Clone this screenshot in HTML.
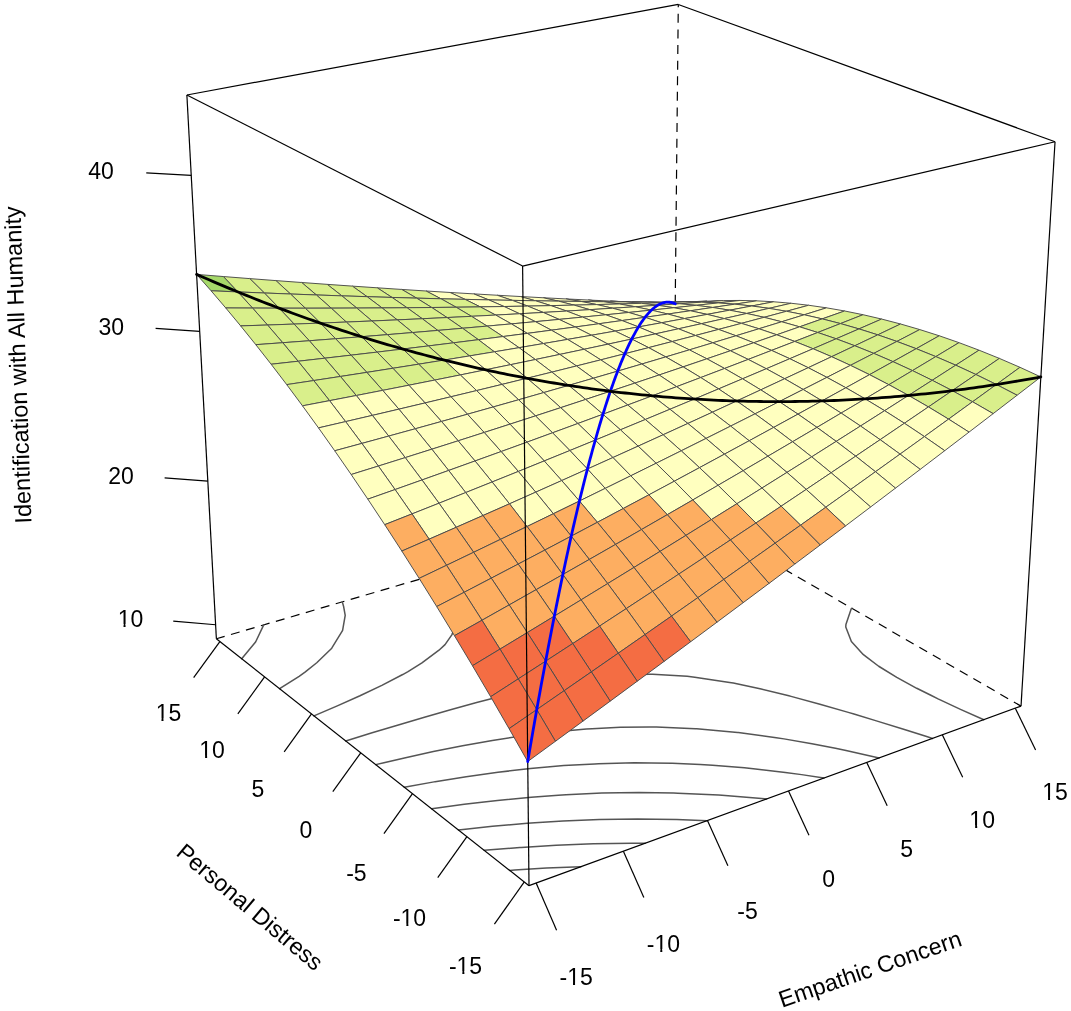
<!DOCTYPE html>
<html><head><meta charset="utf-8"><style>
html,body{margin:0;padding:0;background:#fff;}
svg{display:block;will-change:transform;}
text{font-family:"Liberation Sans",sans-serif;font-size:23px;fill:#000;}
</style></head><body>
<svg width="1071" height="1011" viewBox="0 0 1071 1011">
<rect width="1071" height="1011" fill="#fff"/>
<defs><clipPath id="c0"><path d="M536.19,945.49h80v80h-80ZM567.98,982.77H573.01V987.49H567.98ZM575.05,982.77H579.90V987.49H575.05Z" clip-rule="evenodd"/></clipPath><clipPath id="c1"><path d="M425.52,934.07h80v80h-80ZM457.31,971.35H462.34V976.07H457.31ZM464.38,971.35H469.23V976.07H464.38Z" clip-rule="evenodd"/></clipPath><clipPath id="c2"><path d="M623.45,911.60h80v80h-80ZM655.24,948.88H660.27V953.60H655.24ZM662.30,948.88H667.15V953.60H662.30Z" clip-rule="evenodd"/></clipPath><clipPath id="c3"><path d="M369.52,886.39h80v80h-80ZM401.31,923.68H406.35V928.39H401.31ZM408.38,923.68H413.23V928.39H408.38Z" clip-rule="evenodd"/></clipPath><clipPath id="c10"><path d="M942.17,787.81h80v80h-80ZM970.13,825.09H975.16V829.81H970.13ZM977.20,825.09H982.05V829.81H977.20Z" clip-rule="evenodd"/></clipPath><clipPath id="c11"><path d="M172.10,718.31h80v80h-80ZM200.06,755.59H205.10V760.31H200.06ZM207.13,755.59H211.98V760.31H207.13Z" clip-rule="evenodd"/></clipPath><clipPath id="c12"><path d="M1015.05,759.51h80v80h-80ZM1043.01,796.79H1048.05V801.51H1043.01ZM1050.08,796.79H1054.93V801.51H1050.08Z" clip-rule="evenodd"/></clipPath><clipPath id="c13"><path d="M128.47,681.16h80v80h-80ZM156.43,718.44H161.46V723.16H156.43ZM163.49,718.44H168.34V723.16H163.49Z" clip-rule="evenodd"/></clipPath><clipPath id="c14"><path d="M90.52,586.83h80v80h-80ZM118.49,624.11H123.52V628.83H118.49ZM125.55,624.11H130.40V628.83H125.55Z" clip-rule="evenodd"/></clipPath></defs>
<line x1="216.37" y1="638.79" x2="673.16" y2="504.83" stroke="#000" stroke-width="1.2" stroke-dasharray="9,6.6" stroke-dashoffset="0.4"/>
<line x1="1021.02" y1="706.13" x2="673.16" y2="504.83" stroke="#000" stroke-width="1.2" stroke-dasharray="9,6.6" stroke-dashoffset="0.7"/>
<line x1="673.16" y1="504.83" x2="678.29" y2="4.44" stroke="#000" stroke-width="1.2" stroke-dasharray="9,6.6" stroke-dashoffset="1.6"/>
<polyline points="580.88,866.74 546.50,868.10 514.67,870.06 509.66,870.39" fill="none" stroke="#555" stroke-width="1.5" stroke-linejoin="round" stroke-linecap="round"/>
<polyline points="645.22,843.26 631.87,843.19 593.52,843.80 586.89,844.02 556.19,845.20 521.13,847.40 519.92,847.48 484.29,850.35" fill="none" stroke="#555" stroke-width="1.5" stroke-linejoin="round" stroke-linecap="round"/>
<polyline points="707.07,820.69 676.84,819.48 655.92,819.13 637.52,818.95 599.71,819.53 599.34,819.54 562.96,820.92 534.87,822.71 527.35,823.23 492.50,826.21 458.55,829.93 458.45,829.94" fill="none" stroke="#555" stroke-width="1.5" stroke-linejoin="round" stroke-linecap="round"/>
<polyline points="766.58,798.98 761.65,798.46 722.01,795.31 718.61,795.07 677.86,793.16 673.67,793.06 638.98,792.53 619.96,792.76 601.80,793.11 566.01,794.73 558.28,795.23 531.23,797.16 497.43,800.43 483.99,801.99 464.30,804.35 431.74,808.86" fill="none" stroke="#555" stroke-width="1.5" stroke-linejoin="round" stroke-linecap="round"/>
<polyline points="823.88,778.07 801.59,774.62 785.31,772.48 755.47,768.89 744.44,767.85 712.56,765.17 700.28,764.49 672.37,763.20 651.26,762.88 634.47,762.78 598.48,763.70 594.78,763.88 563.81,765.61 530.49,768.58 525.88,769.08 497.95,772.24 466.20,776.65 435.08,781.69 434.04,781.87 404.25,787.15" fill="none" stroke="#555" stroke-width="1.5" stroke-linejoin="round" stroke-linecap="round"/>
<polyline points="650.07,511.61 653.49,511.65 684.45,511.36" fill="none" stroke="#555" stroke-width="1.5" stroke-linejoin="round" stroke-linecap="round"/>
<polyline points="879.12,757.91 846.06,750.59 835.44,748.30 811.93,743.81 783.98,738.88 776.26,737.74 738.28,732.61 737.58,732.52 696.74,728.82 695.30,728.71 656.43,727.10 649.42,727.07 620.27,727.29 592.04,728.75 586.37,729.10 553.87,731.95 522.73,735.88 514.44,737.11 492.33,740.50 462.59,745.77 433.35,751.61 404.44,757.92 383.93,762.68 375.71,764.61" fill="none" stroke="#555" stroke-width="1.5" stroke-linejoin="round" stroke-linecap="round"/>
<polyline points="573.97,533.92 599.29,536.20 610.13,536.84 634.26,537.98 651.69,538.20 666.74,538.23 697.07,537.21 702.09,536.91 725.82,535.31" fill="none" stroke="#555" stroke-width="1.5" stroke-linejoin="round" stroke-linecap="round"/>
<polyline points="932.41,738.47 927.42,736.80 904.40,729.55 876.40,720.85 853.94,713.97 848.30,712.38 819.92,704.20 791.05,696.38 788.89,695.78 761.19,689.07 733.31,683.10 729.66,682.49 694.76,677.16 687.23,676.20 652.59,674.35 648.99,674.25 615.51,675.42 589.25,678.48 585.48,678.97 556.94,683.66 529.62,689.35 502.96,695.71 476.66,702.54 450.52,709.73 424.44,717.21 398.31,724.92 372.10,732.84 345.74,740.95" fill="none" stroke="#555" stroke-width="1.5" stroke-linejoin="round" stroke-linecap="round"/>
<polyline points="497.34,556.39 506.09,558.84 522.28,562.86 548.62,569.03 557.93,571.15 577.14,574.66 602.68,578.64 609.29,579.30 640.63,581.70 648.79,581.77 673.37,581.50 702.17,578.92 708.03,578.14 728.86,575.16 753.87,570.52 777.67,565.31" fill="none" stroke="#555" stroke-width="1.5" stroke-linejoin="round" stroke-linecap="round"/>
<polyline points="420.16,579.03 434.02,588.99 445.66,599.82 453.66,611.97 453.85,612.62 455.40,626.28 451.82,634.87 445.03,644.61 438.98,650.18 421.94,662.94 408.02,671.63 402.71,674.54 381.84,685.32 359.98,695.72 337.31,705.87 313.95,715.85" fill="none" stroke="#555" stroke-width="1.5" stroke-linejoin="round" stroke-linecap="round"/>
<polyline points="983.84,719.70 960.49,709.33 938.06,698.88 930.85,695.26 916.73,688.29 896.79,677.46 878.69,666.24 866.34,656.90 863.15,654.40 851.38,641.57 845.77,626.96 845.92,624.51 851.15,609.07 851.80,608.21" fill="none" stroke="#555" stroke-width="1.5" stroke-linejoin="round" stroke-linecap="round"/>
<polyline points="342.30,601.86 343.55,606.22 345.21,615.30 342.60,630.31 342.48,630.69 331.89,647.92 331.00,649.04 316.75,662.78 305.02,672.18 299.14,676.26 279.62,688.73" fill="none" stroke="#555" stroke-width="1.5" stroke-linejoin="round" stroke-linecap="round"/>
<polyline points="263.72,624.90 255.72,641.80 255.36,642.31 241.71,658.79" fill="none" stroke="#555" stroke-width="1.5" stroke-linejoin="round" stroke-linecap="round"/>
<polygon points="669.54,302.19 691.02,302.25 675.22,303.82 653.83,302.95" fill="#FDAE61" stroke="#4a4a4a" stroke-width="0.95" stroke-linejoin="round"/>
<polygon points="647.82,302.08 669.54,302.19 653.83,302.95 632.20,302.03" fill="#FFFFBF" stroke="#4a4a4a" stroke-width="0.95" stroke-linejoin="round"/>
<polygon points="685.49,301.92 707.07,301.16 691.02,302.25 669.54,302.19" fill="#FFFFBF" stroke="#4a4a4a" stroke-width="0.95" stroke-linejoin="round"/>
<polygon points="625.86,301.93 647.82,302.08 632.20,302.03 610.32,301.05" fill="#FFFFBF" stroke="#4a4a4a" stroke-width="0.95" stroke-linejoin="round"/>
<polygon points="663.68,302.64 685.49,301.92 669.54,302.19 647.82,302.08" fill="#FFFFBF" stroke="#4a4a4a" stroke-width="0.95" stroke-linejoin="round"/>
<polygon points="701.70,302.15 723.37,300.55 707.07,301.16 685.49,301.92" fill="#FFFFBF" stroke="#4a4a4a" stroke-width="0.95" stroke-linejoin="round"/>
<polygon points="603.66,301.72 625.86,301.93 610.32,301.05 588.20,300.01" fill="#FFFFBF" stroke="#4a4a4a" stroke-width="0.95" stroke-linejoin="round"/>
<polygon points="641.64,303.33 663.68,302.64 647.82,302.08 625.86,301.93" fill="#FFFFBF" stroke="#4a4a4a" stroke-width="0.95" stroke-linejoin="round"/>
<polygon points="679.79,303.72 701.70,302.15 685.49,301.92 663.68,302.64" fill="#FFFFBF" stroke="#4a4a4a" stroke-width="0.95" stroke-linejoin="round"/>
<polygon points="581.20,301.46 603.66,301.72 588.20,300.01 565.83,298.91" fill="#FFFFBF" stroke="#4a4a4a" stroke-width="0.95" stroke-linejoin="round"/>
<polygon points="718.15,302.90 739.92,300.45 723.37,300.55 701.70,302.15" fill="#FFFFBF" stroke="#4a4a4a" stroke-width="0.95" stroke-linejoin="round"/>
<polygon points="619.34,303.97 641.64,303.33 625.86,301.93 603.66,301.72" fill="#FFFFBF" stroke="#4a4a4a" stroke-width="0.95" stroke-linejoin="round"/>
<polygon points="657.65,305.26 679.79,303.72 663.68,302.64 641.64,303.33" fill="#FFFFBF" stroke="#4a4a4a" stroke-width="0.95" stroke-linejoin="round"/>
<polygon points="558.50,301.15 581.20,301.46 565.83,298.91 543.21,297.75" fill="#FFFFBF" stroke="#4a4a4a" stroke-width="0.95" stroke-linejoin="round"/>
<polygon points="696.15,305.33 718.15,302.90 701.70,302.15 679.79,303.72" fill="#FFFFBF" stroke="#4a4a4a" stroke-width="0.95" stroke-linejoin="round"/>
<polygon points="596.81,304.57 619.34,303.97 603.66,301.72 581.20,301.46" fill="#FFFFBF" stroke="#4a4a4a" stroke-width="0.95" stroke-linejoin="round"/>
<polygon points="734.85,304.18 756.72,300.85 739.92,300.45 718.15,302.90" fill="#FFFFBF" stroke="#4a4a4a" stroke-width="0.95" stroke-linejoin="round"/>
<polygon points="635.27,306.76 657.65,305.26 641.64,303.33 619.34,303.97" fill="#FFFFBF" stroke="#4a4a4a" stroke-width="0.95" stroke-linejoin="round"/>
<polygon points="535.53,300.79 558.50,301.15 543.21,297.75 520.32,296.53" fill="#FFFFBF" stroke="#4a4a4a" stroke-width="0.95" stroke-linejoin="round"/>
<polygon points="673.91,307.74 696.15,305.33 679.79,303.72 657.65,305.26" fill="#FFFFBF" stroke="#4a4a4a" stroke-width="0.95" stroke-linejoin="round"/>
<polygon points="574.02,305.12 596.81,304.57 581.20,301.46 558.50,301.15" fill="#FFFFBF" stroke="#4a4a4a" stroke-width="0.95" stroke-linejoin="round"/>
<polygon points="712.75,307.48 734.85,304.18 718.15,302.90 696.15,305.33" fill="#FFFFBF" stroke="#4a4a4a" stroke-width="0.95" stroke-linejoin="round"/>
<polygon points="612.65,308.23 635.27,306.76 619.34,303.97 596.81,304.57" fill="#FFFFBF" stroke="#4a4a4a" stroke-width="0.95" stroke-linejoin="round"/>
<polygon points="512.30,300.37 535.53,300.79 520.32,296.53 497.17,295.24" fill="#FFFFBF" stroke="#4a4a4a" stroke-width="0.95" stroke-linejoin="round"/>
<polygon points="751.80,305.99 773.77,301.78 756.72,300.85 734.85,304.18" fill="#FFFFBF" stroke="#4a4a4a" stroke-width="0.95" stroke-linejoin="round"/>
<polygon points="651.44,310.12 673.91,307.74 657.65,305.26 635.27,306.76" fill="#FFFFBF" stroke="#4a4a4a" stroke-width="0.95" stroke-linejoin="round"/>
<polygon points="550.98,305.63 574.02,305.12 558.50,301.15 535.53,300.79" fill="#FFFFBF" stroke="#4a4a4a" stroke-width="0.95" stroke-linejoin="round"/>
<polygon points="690.42,310.78 712.75,307.48 696.15,305.33 673.91,307.74" fill="#FFFFBF" stroke="#4a4a4a" stroke-width="0.95" stroke-linejoin="round"/>
<polygon points="589.78,309.67 612.65,308.23 596.81,304.57 574.02,305.12" fill="#FFFFBF" stroke="#4a4a4a" stroke-width="0.95" stroke-linejoin="round"/>
<polygon points="729.60,310.19 751.80,305.99 734.85,304.18 712.75,307.48" fill="#FFFFBF" stroke="#4a4a4a" stroke-width="0.95" stroke-linejoin="round"/>
<polygon points="628.73,312.48 651.44,310.12 635.27,306.76 612.65,308.23" fill="#FFFFBF" stroke="#4a4a4a" stroke-width="0.95" stroke-linejoin="round"/>
<polygon points="488.81,299.90 512.30,300.37 497.17,295.24 473.74,293.89" fill="#FFFFBF" stroke="#4a4a4a" stroke-width="0.95" stroke-linejoin="round"/>
<polygon points="527.67,306.10 550.98,305.63 535.53,300.79 512.30,300.37" fill="#FFFFBF" stroke="#4a4a4a" stroke-width="0.95" stroke-linejoin="round"/>
<polygon points="769.01,308.36 791.09,303.25 773.77,301.78 751.80,305.99" fill="#FFFFBF" stroke="#4a4a4a" stroke-width="0.95" stroke-linejoin="round"/>
<polygon points="667.86,314.05 690.42,310.78 673.91,307.74 651.44,310.12" fill="#FFFFBF" stroke="#4a4a4a" stroke-width="0.95" stroke-linejoin="round"/>
<polygon points="566.65,311.07 589.78,309.67 574.02,305.12 550.98,305.63" fill="#FFFFBF" stroke="#4a4a4a" stroke-width="0.95" stroke-linejoin="round"/>
<polygon points="707.18,314.39 729.60,310.19 712.75,307.48 690.42,310.78" fill="#FFFFBF" stroke="#4a4a4a" stroke-width="0.95" stroke-linejoin="round"/>
<polygon points="605.78,314.81 628.73,312.48 612.65,308.23 589.78,309.67" fill="#FFFFBF" stroke="#4a4a4a" stroke-width="0.95" stroke-linejoin="round"/>
<polygon points="465.04,299.37 488.81,299.90 473.74,293.89 450.04,292.47" fill="#FFFFBF" stroke="#4a4a4a" stroke-width="0.95" stroke-linejoin="round"/>
<polygon points="746.71,313.47 769.01,308.36 751.80,305.99 729.60,310.19" fill="#FFFFBF" stroke="#4a4a4a" stroke-width="0.95" stroke-linejoin="round"/>
<polygon points="504.10,306.52 527.67,306.10 512.30,300.37 488.81,299.90" fill="#FFFFBF" stroke="#4a4a4a" stroke-width="0.95" stroke-linejoin="round"/>
<polygon points="645.06,317.32 667.86,314.05 651.44,310.12 628.73,312.48" fill="#FFFFBF" stroke="#4a4a4a" stroke-width="0.95" stroke-linejoin="round"/>
<polygon points="543.27,312.44 566.65,311.07 550.98,305.63 527.67,306.10" fill="#FFFFBF" stroke="#4a4a4a" stroke-width="0.95" stroke-linejoin="round"/>
<polygon points="684.52,318.57 707.18,314.39 690.42,310.78 667.86,314.05" fill="#FFFFBF" stroke="#4a4a4a" stroke-width="0.95" stroke-linejoin="round"/>
<polygon points="786.48,311.29 808.67,305.26 791.09,303.25 769.01,308.36" fill="#FFFFBF" stroke="#4a4a4a" stroke-width="0.95" stroke-linejoin="round"/>
<polygon points="582.57,317.12 605.78,314.81 589.78,309.67 566.65,311.07" fill="#FFFFBF" stroke="#4a4a4a" stroke-width="0.95" stroke-linejoin="round"/>
<polygon points="440.99,298.79 465.04,299.37 450.04,292.47 426.06,290.99" fill="#FFFFBF" stroke="#4a4a4a" stroke-width="0.95" stroke-linejoin="round"/>
<polygon points="724.19,318.58 746.71,313.47 729.60,310.19 707.18,314.39" fill="#FFFFBF" stroke="#4a4a4a" stroke-width="0.95" stroke-linejoin="round"/>
<polygon points="622.01,320.56 645.06,317.32 628.73,312.48 605.78,314.81" fill="#FFFFBF" stroke="#4a4a4a" stroke-width="0.95" stroke-linejoin="round"/>
<polygon points="480.26,306.90 504.10,306.52 488.81,299.90 465.04,299.37" fill="#FFFFBF" stroke="#4a4a4a" stroke-width="0.95" stroke-linejoin="round"/>
<polygon points="519.62,313.77 543.27,312.44 527.67,306.10 504.10,306.52" fill="#FFFFBF" stroke="#4a4a4a" stroke-width="0.95" stroke-linejoin="round"/>
<polygon points="764.08,317.32 786.48,311.29 769.01,308.36 746.71,313.47" fill="#FFFFBF" stroke="#4a4a4a" stroke-width="0.95" stroke-linejoin="round"/>
<polygon points="661.63,322.75 684.52,318.57 667.86,314.05 645.06,317.32" fill="#FFFFBF" stroke="#4a4a4a" stroke-width="0.95" stroke-linejoin="round"/>
<polygon points="559.10,319.41 582.57,317.12 566.65,311.07 543.27,312.44" fill="#FFFFBF" stroke="#4a4a4a" stroke-width="0.95" stroke-linejoin="round"/>
<polygon points="701.43,323.69 724.19,318.58 707.18,314.39 684.52,318.57" fill="#FFFFBF" stroke="#4a4a4a" stroke-width="0.95" stroke-linejoin="round"/>
<polygon points="416.66,298.15 440.99,298.79 426.06,290.99 401.79,289.44" fill="#D9EF8B" stroke="#4a4a4a" stroke-width="0.95" stroke-linejoin="round"/>
<polygon points="804.21,314.79 826.51,307.83 808.67,305.26 786.48,311.29" fill="#FFFFBF" stroke="#4a4a4a" stroke-width="0.95" stroke-linejoin="round"/>
<polygon points="598.72,323.79 622.01,320.56 605.78,314.81 582.57,317.12" fill="#FFFFBF" stroke="#4a4a4a" stroke-width="0.95" stroke-linejoin="round"/>
<polygon points="456.14,307.23 480.26,306.90 465.04,299.37 440.99,298.79" fill="#D9EF8B" stroke="#4a4a4a" stroke-width="0.95" stroke-linejoin="round"/>
<polygon points="741.45,323.37 764.08,317.32 746.71,313.47 724.19,318.58" fill="#FFFFBF" stroke="#4a4a4a" stroke-width="0.95" stroke-linejoin="round"/>
<polygon points="495.71,315.07 519.62,313.77 504.10,306.52 480.26,306.90" fill="#FFFFBF" stroke="#4a4a4a" stroke-width="0.95" stroke-linejoin="round"/>
<polygon points="638.49,326.93 661.63,322.75 645.06,317.32 622.01,320.56" fill="#FFFFBF" stroke="#4a4a4a" stroke-width="0.95" stroke-linejoin="round"/>
<polygon points="535.38,321.66 559.10,319.41 543.27,312.44 519.62,313.77" fill="#FFFFBF" stroke="#4a4a4a" stroke-width="0.95" stroke-linejoin="round"/>
<polygon points="678.44,328.81 701.43,323.69 684.52,318.57 661.63,322.75" fill="#FFFFBF" stroke="#4a4a4a" stroke-width="0.95" stroke-linejoin="round"/>
<polygon points="781.70,321.77 804.21,314.79 786.48,311.29 764.08,317.32" fill="#FFFFBF" stroke="#4a4a4a" stroke-width="0.95" stroke-linejoin="round"/>
<polygon points="392.04,297.44 416.66,298.15 401.79,289.44 377.23,287.81" fill="#D9EF8B" stroke="#4a4a4a" stroke-width="0.95" stroke-linejoin="round"/>
<polygon points="575.17,327.01 598.72,323.79 582.57,317.12 559.10,319.41" fill="#FFFFBF" stroke="#4a4a4a" stroke-width="0.95" stroke-linejoin="round"/>
<polygon points="431.75,307.51 456.14,307.23 440.99,298.79 416.66,298.15" fill="#D9EF8B" stroke="#4a4a4a" stroke-width="0.95" stroke-linejoin="round"/>
<polygon points="718.59,329.42 741.45,323.37 724.19,318.58 701.43,323.69" fill="#FFFFBF" stroke="#4a4a4a" stroke-width="0.95" stroke-linejoin="round"/>
<polygon points="822.21,318.89 844.62,310.98 826.51,307.83 804.21,314.79" fill="#FFFFBF" stroke="#4a4a4a" stroke-width="0.95" stroke-linejoin="round"/>
<polygon points="615.11,331.10 638.49,326.93 622.01,320.56 598.72,323.79" fill="#FFFFBF" stroke="#4a4a4a" stroke-width="0.95" stroke-linejoin="round"/>
<polygon points="471.53,316.33 495.71,315.07 480.26,306.90 456.14,307.23" fill="#D9EF8B" stroke="#4a4a4a" stroke-width="0.95" stroke-linejoin="round"/>
<polygon points="511.39,323.90 535.38,321.66 519.62,313.77 495.71,315.07" fill="#FFFFBF" stroke="#4a4a4a" stroke-width="0.95" stroke-linejoin="round"/>
<polygon points="758.96,328.77 781.70,321.77 764.08,317.32 741.45,323.37" fill="#FFFFBF" stroke="#4a4a4a" stroke-width="0.95" stroke-linejoin="round"/>
<polygon points="655.21,333.92 678.44,328.81 661.63,322.75 638.49,326.93" fill="#FFFFBF" stroke="#4a4a4a" stroke-width="0.95" stroke-linejoin="round"/>
<polygon points="551.37,330.20 575.17,327.01 559.10,319.41 535.38,321.66" fill="#FFFFBF" stroke="#4a4a4a" stroke-width="0.95" stroke-linejoin="round"/>
<polygon points="367.12,296.68 392.04,297.44 377.23,287.81 352.37,286.12" fill="#D9EF8B" stroke="#4a4a4a" stroke-width="0.95" stroke-linejoin="round"/>
<polygon points="695.50,335.49 718.59,329.42 701.43,323.69 678.44,328.81" fill="#FFFFBF" stroke="#4a4a4a" stroke-width="0.95" stroke-linejoin="round"/>
<polygon points="407.06,307.75 431.75,307.51 416.66,298.15 392.04,297.44" fill="#D9EF8B" stroke="#4a4a4a" stroke-width="0.95" stroke-linejoin="round"/>
<polygon points="799.58,326.83 822.21,318.89 804.21,314.79 781.70,321.77" fill="#FFFFBF" stroke="#4a4a4a" stroke-width="0.95" stroke-linejoin="round"/>
<polygon points="591.48,335.26 615.11,331.10 598.72,323.79 575.17,327.01" fill="#FFFFBF" stroke="#4a4a4a" stroke-width="0.95" stroke-linejoin="round"/>
<polygon points="447.06,317.55 471.53,316.33 456.14,307.23 431.75,307.51" fill="#D9EF8B" stroke="#4a4a4a" stroke-width="0.95" stroke-linejoin="round"/>
<polygon points="736.00,335.78 758.96,328.77 741.45,323.37 718.59,329.42" fill="#FFFFBF" stroke="#4a4a4a" stroke-width="0.95" stroke-linejoin="round"/>
<polygon points="631.74,339.04 655.21,333.92 638.49,326.93 615.11,331.10" fill="#FFFFBF" stroke="#4a4a4a" stroke-width="0.95" stroke-linejoin="round"/>
<polygon points="487.14,326.10 511.39,323.90 495.71,315.07 471.53,316.33" fill="#FFFFBF" stroke="#4a4a4a" stroke-width="0.95" stroke-linejoin="round"/>
<polygon points="840.47,323.59 863.00,314.71 844.62,310.98 822.21,318.89" fill="#D9EF8B" stroke="#4a4a4a" stroke-width="0.95" stroke-linejoin="round"/>
<polygon points="527.31,333.39 551.37,330.20 535.38,321.66 511.39,323.90" fill="#FFFFBF" stroke="#4a4a4a" stroke-width="0.95" stroke-linejoin="round"/>
<polygon points="672.18,341.56 695.50,335.49 678.44,328.81 655.21,333.92" fill="#FFFFBF" stroke="#4a4a4a" stroke-width="0.95" stroke-linejoin="round"/>
<polygon points="776.74,334.79 799.58,326.83 781.70,321.77 758.96,328.77" fill="#FFFFBF" stroke="#4a4a4a" stroke-width="0.95" stroke-linejoin="round"/>
<polygon points="341.90,295.86 367.12,296.68 352.37,286.12 327.21,284.35" fill="#D9EF8B" stroke="#4a4a4a" stroke-width="0.95" stroke-linejoin="round"/>
<polygon points="382.09,307.93 407.06,307.75 392.04,297.44 367.12,296.68" fill="#D9EF8B" stroke="#4a4a4a" stroke-width="0.95" stroke-linejoin="round"/>
<polygon points="567.60,339.41 591.48,335.26 575.17,327.01 551.37,330.20" fill="#FFFFBF" stroke="#4a4a4a" stroke-width="0.95" stroke-linejoin="round"/>
<polygon points="422.32,318.74 447.06,317.55 431.75,307.51 407.06,307.75" fill="#D9EF8B" stroke="#4a4a4a" stroke-width="0.95" stroke-linejoin="round"/>
<polygon points="712.81,342.81 736.00,335.78 718.59,329.42 695.50,335.49" fill="#FFFFBF" stroke="#4a4a4a" stroke-width="0.95" stroke-linejoin="round"/>
<polygon points="817.72,332.50 840.47,323.59 822.21,318.89 799.58,326.83" fill="#D9EF8B" stroke="#4a4a4a" stroke-width="0.95" stroke-linejoin="round"/>
<polygon points="608.03,344.16 631.74,339.04 615.11,331.10 591.48,335.26" fill="#FFFFBF" stroke="#4a4a4a" stroke-width="0.95" stroke-linejoin="round"/>
<polygon points="462.60,328.28 487.14,326.10 471.53,316.33 447.06,317.55" fill="#D9EF8B" stroke="#4a4a4a" stroke-width="0.95" stroke-linejoin="round"/>
<polygon points="502.98,336.55 527.31,333.39 511.39,323.90 487.14,326.10" fill="#FFFFBF" stroke="#4a4a4a" stroke-width="0.95" stroke-linejoin="round"/>
<polygon points="753.67,342.77 776.74,334.79 758.96,328.77 736.00,335.78" fill="#FFFFBF" stroke="#4a4a4a" stroke-width="0.95" stroke-linejoin="round"/>
<polygon points="648.62,347.65 672.18,341.56 655.21,333.92 631.74,339.04" fill="#FFFFBF" stroke="#4a4a4a" stroke-width="0.95" stroke-linejoin="round"/>
<polygon points="858.99,328.91 881.64,319.05 863.00,314.71 840.47,323.59" fill="#D9EF8B" stroke="#4a4a4a" stroke-width="0.95" stroke-linejoin="round"/>
<polygon points="316.38,294.98 341.90,295.86 327.21,284.35 301.73,282.51" fill="#D9EF8B" stroke="#4a4a4a" stroke-width="0.95" stroke-linejoin="round"/>
<polygon points="543.46,343.55 567.60,339.41 551.37,330.20 527.31,333.39" fill="#FFFFBF" stroke="#4a4a4a" stroke-width="0.95" stroke-linejoin="round"/>
<polygon points="356.81,308.07 382.09,307.93 367.12,296.68 341.90,295.86" fill="#D9EF8B" stroke="#4a4a4a" stroke-width="0.95" stroke-linejoin="round"/>
<polygon points="689.39,349.86 712.81,342.81 695.50,335.49 672.18,341.56" fill="#FFFFBF" stroke="#4a4a4a" stroke-width="0.95" stroke-linejoin="round"/>
<polygon points="794.77,341.44 817.72,332.50 799.58,326.83 776.74,334.79" fill="#FFFFBF" stroke="#4a4a4a" stroke-width="0.95" stroke-linejoin="round"/>
<polygon points="397.28,319.89 422.32,318.74 407.06,307.75 382.09,307.93" fill="#D9EF8B" stroke="#4a4a4a" stroke-width="0.95" stroke-linejoin="round"/>
<polygon points="584.06,349.29 608.03,344.16 591.48,335.26 567.60,339.41" fill="#FFFFBF" stroke="#4a4a4a" stroke-width="0.95" stroke-linejoin="round"/>
<polygon points="437.79,330.43 462.60,328.28 447.06,317.55 422.32,318.74" fill="#D9EF8B" stroke="#4a4a4a" stroke-width="0.95" stroke-linejoin="round"/>
<polygon points="730.38,350.78 753.67,342.77 736.00,335.78 712.81,342.81" fill="#FFFFBF" stroke="#4a4a4a" stroke-width="0.95" stroke-linejoin="round"/>
<polygon points="624.81,353.75 648.62,347.65 631.74,339.04 608.03,344.16" fill="#FFFFBF" stroke="#4a4a4a" stroke-width="0.95" stroke-linejoin="round"/>
<polygon points="478.38,339.70 502.98,336.55 487.14,326.10 462.60,328.28" fill="#D9EF8B" stroke="#4a4a4a" stroke-width="0.95" stroke-linejoin="round"/>
<polygon points="836.13,338.81 858.99,328.91 840.47,323.59 817.72,332.50" fill="#D9EF8B" stroke="#4a4a4a" stroke-width="0.95" stroke-linejoin="round"/>
<polygon points="519.05,347.69 543.46,343.55 527.31,333.39 502.98,336.55" fill="#FFFFBF" stroke="#4a4a4a" stroke-width="0.95" stroke-linejoin="round"/>
<polygon points="290.54,294.03 316.38,294.98 301.73,282.51 275.94,280.60" fill="#D9EF8B" stroke="#4a4a4a" stroke-width="0.95" stroke-linejoin="round"/>
<polygon points="665.74,356.93 689.39,349.86 672.18,341.56 648.62,347.65" fill="#FFFFBF" stroke="#4a4a4a" stroke-width="0.95" stroke-linejoin="round"/>
<polygon points="771.59,350.42 794.77,341.44 776.74,334.79 753.67,342.77" fill="#FFFFBF" stroke="#4a4a4a" stroke-width="0.95" stroke-linejoin="round"/>
<polygon points="331.24,308.15 356.81,308.07 341.90,295.86 316.38,294.98" fill="#D9EF8B" stroke="#4a4a4a" stroke-width="0.95" stroke-linejoin="round"/>
<polygon points="559.84,354.41 584.06,349.29 567.60,339.41 543.46,343.55" fill="#FFFFBF" stroke="#4a4a4a" stroke-width="0.95" stroke-linejoin="round"/>
<polygon points="877.79,334.85 900.57,323.99 881.64,319.05 858.99,328.91" fill="#D9EF8B" stroke="#4a4a4a" stroke-width="0.95" stroke-linejoin="round"/>
<polygon points="371.95,320.99 397.28,319.89 382.09,307.93 356.81,308.07" fill="#D9EF8B" stroke="#4a4a4a" stroke-width="0.95" stroke-linejoin="round"/>
<polygon points="706.86,358.82 730.38,350.78 712.81,342.81 689.39,349.86" fill="#FFFFBF" stroke="#4a4a4a" stroke-width="0.95" stroke-linejoin="round"/>
<polygon points="412.70,332.55 437.79,330.43 422.32,318.74 397.28,319.89" fill="#D9EF8B" stroke="#4a4a4a" stroke-width="0.95" stroke-linejoin="round"/>
<polygon points="813.06,348.74 836.13,338.81 817.72,332.50 794.77,341.44" fill="#D9EF8B" stroke="#4a4a4a" stroke-width="0.95" stroke-linejoin="round"/>
<polygon points="600.76,359.86 624.81,353.75 608.03,344.16 584.06,349.29" fill="#FFFFBF" stroke="#4a4a4a" stroke-width="0.95" stroke-linejoin="round"/>
<polygon points="453.50,342.83 478.38,339.70 462.60,328.28 437.79,330.43" fill="#D9EF8B" stroke="#4a4a4a" stroke-width="0.95" stroke-linejoin="round"/>
<polygon points="748.20,359.43 771.59,350.42 753.67,342.77 730.38,350.78" fill="#FFFFBF" stroke="#4a4a4a" stroke-width="0.95" stroke-linejoin="round"/>
<polygon points="494.38,351.82 519.05,347.69 502.98,336.55 478.38,339.70" fill="#FFFFBF" stroke="#4a4a4a" stroke-width="0.95" stroke-linejoin="round"/>
<polygon points="641.84,364.02 665.74,356.93 648.62,347.65 624.81,353.75" fill="#FFFFBF" stroke="#4a4a4a" stroke-width="0.95" stroke-linejoin="round"/>
<polygon points="854.81,345.76 877.79,334.85 858.99,328.91 836.13,338.81" fill="#D9EF8B" stroke="#4a4a4a" stroke-width="0.95" stroke-linejoin="round"/>
<polygon points="264.38,293.01 290.54,294.03 275.94,280.60 249.83,278.61" fill="#D9EF8B" stroke="#4a4a4a" stroke-width="0.95" stroke-linejoin="round"/>
<polygon points="305.35,308.19 331.24,308.15 316.38,294.98 290.54,294.03" fill="#D9EF8B" stroke="#4a4a4a" stroke-width="0.95" stroke-linejoin="round"/>
<polygon points="535.36,359.54 559.84,354.41 543.46,343.55 519.05,347.69" fill="#FFFFBF" stroke="#4a4a4a" stroke-width="0.95" stroke-linejoin="round"/>
<polygon points="346.32,322.06 371.95,320.99 356.81,308.07 331.24,308.15" fill="#D9EF8B" stroke="#4a4a4a" stroke-width="0.95" stroke-linejoin="round"/>
<polygon points="683.11,366.89 706.86,358.82 689.39,349.86 665.74,356.93" fill="#FFFFBF" stroke="#4a4a4a" stroke-width="0.95" stroke-linejoin="round"/>
<polygon points="789.77,358.72 813.06,348.74 794.77,341.44 771.59,350.42" fill="#FFFFBF" stroke="#4a4a4a" stroke-width="0.95" stroke-linejoin="round"/>
<polygon points="387.31,334.65 412.70,332.55 397.28,319.89 371.95,320.99" fill="#D9EF8B" stroke="#4a4a4a" stroke-width="0.95" stroke-linejoin="round"/>
<polygon points="576.46,365.98 600.76,359.86 584.06,349.29 559.84,354.41" fill="#FFFFBF" stroke="#4a4a4a" stroke-width="0.95" stroke-linejoin="round"/>
<polygon points="896.86,341.44 919.76,329.57 900.57,323.99 877.79,334.85" fill="#D9EF8B" stroke="#4a4a4a" stroke-width="0.95" stroke-linejoin="round"/>
<polygon points="428.34,345.94 453.50,342.83 437.79,330.43 412.70,332.55" fill="#D9EF8B" stroke="#4a4a4a" stroke-width="0.95" stroke-linejoin="round"/>
<polygon points="724.57,368.47 748.20,359.43 730.38,350.78 706.86,358.82" fill="#FFFFBF" stroke="#4a4a4a" stroke-width="0.95" stroke-linejoin="round"/>
<polygon points="617.70,371.13 641.84,364.02 624.81,353.75 600.76,359.86" fill="#FFFFBF" stroke="#4a4a4a" stroke-width="0.95" stroke-linejoin="round"/>
<polygon points="831.62,356.71 854.81,345.76 836.13,338.81 813.06,348.74" fill="#D9EF8B" stroke="#4a4a4a" stroke-width="0.95" stroke-linejoin="round"/>
<polygon points="469.43,355.95 494.38,351.82 478.38,339.70 453.50,342.83" fill="#D9EF8B" stroke="#4a4a4a" stroke-width="0.95" stroke-linejoin="round"/>
<polygon points="510.61,364.67 535.36,359.54 519.05,347.69 494.38,351.82" fill="#FFFFBF" stroke="#4a4a4a" stroke-width="0.95" stroke-linejoin="round"/>
<polygon points="237.89,291.94 264.38,293.01 249.83,278.61 223.38,276.54" fill="#D9EF8B" stroke="#4a4a4a" stroke-width="0.95" stroke-linejoin="round"/>
<polygon points="766.27,368.75 789.77,358.72 771.59,350.42 748.20,359.43" fill="#FFFFBF" stroke="#4a4a4a" stroke-width="0.95" stroke-linejoin="round"/>
<polygon points="659.12,374.99 683.11,366.89 665.74,356.93 641.84,364.02" fill="#FFFFBF" stroke="#4a4a4a" stroke-width="0.95" stroke-linejoin="round"/>
<polygon points="279.15,308.17 305.35,308.19 290.54,294.03 264.38,293.01" fill="#D9EF8B" stroke="#4a4a4a" stroke-width="0.95" stroke-linejoin="round"/>
<polygon points="320.38,323.09 346.32,322.06 331.24,308.15 305.35,308.19" fill="#D9EF8B" stroke="#4a4a4a" stroke-width="0.95" stroke-linejoin="round"/>
<polygon points="873.75,353.37 896.86,341.44 877.79,334.85 854.81,345.76" fill="#D9EF8B" stroke="#4a4a4a" stroke-width="0.95" stroke-linejoin="round"/>
<polygon points="551.90,372.11 576.46,365.98 559.84,354.41 535.36,359.54" fill="#FFFFBF" stroke="#4a4a4a" stroke-width="0.95" stroke-linejoin="round"/>
<polygon points="361.62,336.71 387.31,334.65 371.95,320.99 346.32,322.06" fill="#D9EF8B" stroke="#4a4a4a" stroke-width="0.95" stroke-linejoin="round"/>
<polygon points="700.72,377.55 724.57,368.47 706.86,358.82 683.11,366.89" fill="#FFFFBF" stroke="#4a4a4a" stroke-width="0.95" stroke-linejoin="round"/>
<polygon points="402.89,349.04 428.34,345.94 412.70,332.55 387.31,334.65" fill="#D9EF8B" stroke="#4a4a4a" stroke-width="0.95" stroke-linejoin="round"/>
<polygon points="808.22,367.71 831.62,356.71 813.06,348.74 789.77,358.72" fill="#FFFFBF" stroke="#4a4a4a" stroke-width="0.95" stroke-linejoin="round"/>
<polygon points="593.31,378.25 617.70,371.13 600.76,359.86 576.46,365.98" fill="#FFFFBF" stroke="#4a4a4a" stroke-width="0.95" stroke-linejoin="round"/>
<polygon points="444.21,360.07 469.43,355.95 453.50,342.83 428.34,345.94" fill="#D9EF8B" stroke="#4a4a4a" stroke-width="0.95" stroke-linejoin="round"/>
<polygon points="916.20,348.69 939.24,335.78 919.76,329.57 896.86,341.44" fill="#D9EF8B" stroke="#4a4a4a" stroke-width="0.95" stroke-linejoin="round"/>
<polygon points="742.54,378.81 766.27,368.75 748.20,359.43 724.57,368.47" fill="#FFFFBF" stroke="#4a4a4a" stroke-width="0.95" stroke-linejoin="round"/>
<polygon points="634.89,383.11 659.12,374.99 641.84,364.02 617.70,371.13" fill="#FFFFBF" stroke="#4a4a4a" stroke-width="0.95" stroke-linejoin="round"/>
<polygon points="485.59,369.81 510.61,364.67 494.38,351.82 469.43,355.95" fill="#FFFFBF" stroke="#4a4a4a" stroke-width="0.95" stroke-linejoin="round"/>
<polygon points="850.44,365.35 873.75,353.37 854.81,345.76 831.62,356.71" fill="#D9EF8B" stroke="#4a4a4a" stroke-width="0.95" stroke-linejoin="round"/>
<polygon points="211.08,290.79 237.89,291.94 223.38,276.54 196.60,274.39" fill="#A6D96A" stroke="#4a4a4a" stroke-width="0.95" stroke-linejoin="round"/>
<polygon points="252.62,308.09 279.15,308.17 264.38,293.01 237.89,291.94" fill="#D9EF8B" stroke="#4a4a4a" stroke-width="0.95" stroke-linejoin="round"/>
<polygon points="527.07,378.25 551.90,372.11 535.36,359.54 510.61,364.67" fill="#FFFFBF" stroke="#4a4a4a" stroke-width="0.95" stroke-linejoin="round"/>
<polygon points="294.14,324.08 320.38,323.09 305.35,308.19 279.15,308.17" fill="#D9EF8B" stroke="#4a4a4a" stroke-width="0.95" stroke-linejoin="round"/>
<polygon points="676.63,386.66 700.72,377.55 683.11,366.89 659.12,374.99" fill="#FFFFBF" stroke="#4a4a4a" stroke-width="0.95" stroke-linejoin="round"/>
<polygon points="784.60,378.76 808.22,367.71 789.77,358.72 766.27,368.75" fill="#FFFFBF" stroke="#4a4a4a" stroke-width="0.95" stroke-linejoin="round"/>
<polygon points="335.64,338.75 361.62,336.71 346.32,322.06 320.38,323.09" fill="#D9EF8B" stroke="#4a4a4a" stroke-width="0.95" stroke-linejoin="round"/>
<polygon points="568.67,385.40 593.31,378.25 576.46,365.98 551.90,372.11" fill="#FFFFBF" stroke="#4a4a4a" stroke-width="0.95" stroke-linejoin="round"/>
<polygon points="377.15,352.11 402.89,349.04 387.31,334.65 361.62,336.71" fill="#D9EF8B" stroke="#4a4a4a" stroke-width="0.95" stroke-linejoin="round"/>
<polygon points="892.97,361.65 916.20,348.69 896.86,341.44 873.75,353.37" fill="#D9EF8B" stroke="#4a4a4a" stroke-width="0.95" stroke-linejoin="round"/>
<polygon points="418.70,364.18 444.21,360.07 428.34,345.94 402.89,349.04" fill="#D9EF8B" stroke="#4a4a4a" stroke-width="0.95" stroke-linejoin="round"/>
<polygon points="718.58,388.92 742.54,378.81 724.57,368.47 700.72,377.55" fill="#FFFFBF" stroke="#4a4a4a" stroke-width="0.95" stroke-linejoin="round"/>
<polygon points="610.41,391.26 634.89,383.11 617.70,371.13 593.31,378.25" fill="#FFFFBF" stroke="#4a4a4a" stroke-width="0.95" stroke-linejoin="round"/>
<polygon points="826.92,377.39 850.44,365.35 831.62,356.71 808.22,367.71" fill="#FFFFBF" stroke="#4a4a4a" stroke-width="0.95" stroke-linejoin="round"/>
<polygon points="460.30,374.94 485.59,369.81 469.43,355.95 444.21,360.07" fill="#FFFFBF" stroke="#4a4a4a" stroke-width="0.95" stroke-linejoin="round"/>
<polygon points="501.99,384.41 527.07,378.25 510.61,364.67 485.59,369.81" fill="#FFFFBF" stroke="#4a4a4a" stroke-width="0.95" stroke-linejoin="round"/>
<polygon points="760.76,389.86 784.60,378.76 766.27,368.75 742.54,378.81" fill="#FFFFBF" stroke="#4a4a4a" stroke-width="0.95" stroke-linejoin="round"/>
<polygon points="652.31,395.82 676.63,386.66 659.12,374.99 634.89,383.11" fill="#FFFFBF" stroke="#4a4a4a" stroke-width="0.95" stroke-linejoin="round"/>
<polygon points="935.82,356.60 958.99,342.65 939.24,335.78 916.20,348.69" fill="#D9EF8B" stroke="#4a4a4a" stroke-width="0.95" stroke-linejoin="round"/>
<polygon points="225.77,307.97 252.62,308.09 237.89,291.94 211.08,290.79" fill="#D9EF8B" stroke="#4a4a4a" stroke-width="0.95" stroke-linejoin="round"/>
<polygon points="267.57,325.02 294.14,324.08 279.15,308.17 252.62,308.09" fill="#D9EF8B" stroke="#4a4a4a" stroke-width="0.95" stroke-linejoin="round"/>
<polygon points="869.53,374.68 892.97,361.65 873.75,353.37 850.44,365.35" fill="#D9EF8B" stroke="#4a4a4a" stroke-width="0.95" stroke-linejoin="round"/>
<polygon points="309.34,340.76 335.64,338.75 320.38,323.09 294.14,324.08" fill="#D9EF8B" stroke="#4a4a4a" stroke-width="0.95" stroke-linejoin="round"/>
<polygon points="543.77,392.57 568.67,385.40 551.90,372.11 527.07,378.25" fill="#FFFFBF" stroke="#4a4a4a" stroke-width="0.95" stroke-linejoin="round"/>
<polygon points="351.11,355.17 377.15,352.11 361.62,336.71 335.64,338.75" fill="#D9EF8B" stroke="#4a4a4a" stroke-width="0.95" stroke-linejoin="round"/>
<polygon points="694.40,399.07 718.58,388.92 700.72,377.55 676.63,386.66" fill="#FFFFBF" stroke="#4a4a4a" stroke-width="0.95" stroke-linejoin="round"/>
<polygon points="803.18,389.48 826.92,377.39 808.22,367.71 784.60,378.76" fill="#FFFFBF" stroke="#4a4a4a" stroke-width="0.95" stroke-linejoin="round"/>
<polygon points="392.90,368.28 418.70,364.18 402.89,349.04 377.15,352.11" fill="#D9EF8B" stroke="#4a4a4a" stroke-width="0.95" stroke-linejoin="round"/>
<polygon points="585.68,399.44 610.41,391.26 593.31,378.25 568.67,385.40" fill="#FFFFBF" stroke="#4a4a4a" stroke-width="0.95" stroke-linejoin="round"/>
<polygon points="434.73,380.08 460.30,374.94 444.21,360.07 418.70,364.18" fill="#D9EF8B" stroke="#4a4a4a" stroke-width="0.95" stroke-linejoin="round"/>
<polygon points="912.45,370.62 935.82,356.60 916.20,348.69 892.97,361.65" fill="#D9EF8B" stroke="#4a4a4a" stroke-width="0.95" stroke-linejoin="round"/>
<polygon points="736.70,401.01 760.76,389.86 742.54,378.81 718.58,388.92" fill="#FFFFBF" stroke="#4a4a4a" stroke-width="0.95" stroke-linejoin="round"/>
<polygon points="627.75,405.01 652.31,395.82 634.89,383.11 610.41,391.26" fill="#FFFFBF" stroke="#4a4a4a" stroke-width="0.95" stroke-linejoin="round"/>
<polygon points="476.63,390.58 501.99,384.41 485.59,369.81 460.30,374.94" fill="#FFFFBF" stroke="#4a4a4a" stroke-width="0.95" stroke-linejoin="round"/>
<polygon points="845.88,387.76 869.53,374.68 850.44,365.35 826.92,377.39" fill="#FFFFBF" stroke="#4a4a4a" stroke-width="0.95" stroke-linejoin="round"/>
<polygon points="518.61,399.77 543.77,392.57 527.07,378.25 501.99,384.41" fill="#FFFFBF" stroke="#4a4a4a" stroke-width="0.95" stroke-linejoin="round"/>
<polygon points="240.68,325.92 267.57,325.02 252.62,308.09 225.77,307.97" fill="#D9EF8B" stroke="#4a4a4a" stroke-width="0.95" stroke-linejoin="round"/>
<polygon points="669.98,409.27 694.40,399.07 676.63,386.66 652.31,395.82" fill="#FFFFBF" stroke="#4a4a4a" stroke-width="0.95" stroke-linejoin="round"/>
<polygon points="282.74,342.73 309.34,340.76 294.14,324.08 267.57,325.02" fill="#D9EF8B" stroke="#4a4a4a" stroke-width="0.95" stroke-linejoin="round"/>
<polygon points="779.23,401.63 803.18,389.48 784.60,378.76 760.76,389.86" fill="#FFFFBF" stroke="#4a4a4a" stroke-width="0.95" stroke-linejoin="round"/>
<polygon points="324.77,358.21 351.11,355.17 335.64,338.75 309.34,340.76" fill="#D9EF8B" stroke="#4a4a4a" stroke-width="0.95" stroke-linejoin="round"/>
<polygon points="955.72,365.20 979.03,350.18 958.99,342.65 935.82,356.60" fill="#D9EF8B" stroke="#4a4a4a" stroke-width="0.95" stroke-linejoin="round"/>
<polygon points="560.71,407.66 585.68,399.44 568.67,385.40 543.77,392.57" fill="#FFFFBF" stroke="#4a4a4a" stroke-width="0.95" stroke-linejoin="round"/>
<polygon points="366.81,372.38 392.90,368.28 377.15,352.11 351.11,355.17" fill="#D9EF8B" stroke="#4a4a4a" stroke-width="0.95" stroke-linejoin="round"/>
<polygon points="888.88,384.71 912.45,370.62 892.97,361.65 869.53,374.68" fill="#D9EF8B" stroke="#4a4a4a" stroke-width="0.95" stroke-linejoin="round"/>
<polygon points="712.41,412.21 736.70,401.01 718.58,388.92 694.40,399.07" fill="#FFFFBF" stroke="#4a4a4a" stroke-width="0.95" stroke-linejoin="round"/>
<polygon points="408.88,385.22 434.73,380.08 418.70,364.18 392.90,368.28" fill="#D9EF8B" stroke="#4a4a4a" stroke-width="0.95" stroke-linejoin="round"/>
<polygon points="602.94,414.24 627.75,405.01 610.41,391.26 585.68,399.44" fill="#FFFFBF" stroke="#4a4a4a" stroke-width="0.95" stroke-linejoin="round"/>
<polygon points="822.03,400.91 845.88,387.76 826.92,377.39 803.18,389.48" fill="#FFFFBF" stroke="#4a4a4a" stroke-width="0.95" stroke-linejoin="round"/>
<polygon points="450.99,396.76 476.63,390.58 460.30,374.94 434.73,380.08" fill="#FFFFBF" stroke="#4a4a4a" stroke-width="0.95" stroke-linejoin="round"/>
<polygon points="755.07,413.83 779.23,401.63 760.76,389.86 736.70,401.01" fill="#FFFFBF" stroke="#4a4a4a" stroke-width="0.95" stroke-linejoin="round"/>
<polygon points="493.18,406.98 518.61,399.77 501.99,384.41 476.63,390.58" fill="#FFFFBF" stroke="#4a4a4a" stroke-width="0.95" stroke-linejoin="round"/>
<polygon points="932.21,380.29 955.72,365.20 935.82,356.60 912.45,370.62" fill="#D9EF8B" stroke="#4a4a4a" stroke-width="0.95" stroke-linejoin="round"/>
<polygon points="645.32,419.51 669.98,409.27 652.31,395.82 627.75,405.01" fill="#FFFFBF" stroke="#4a4a4a" stroke-width="0.95" stroke-linejoin="round"/>
<polygon points="865.12,398.86 888.88,384.71 869.53,374.68 845.88,387.76" fill="#FFFFBF" stroke="#4a4a4a" stroke-width="0.95" stroke-linejoin="round"/>
<polygon points="255.81,344.68 282.74,342.73 267.57,325.02 240.68,325.92" fill="#D9EF8B" stroke="#4a4a4a" stroke-width="0.95" stroke-linejoin="round"/>
<polygon points="535.47,415.90 560.71,407.66 543.77,392.57 518.61,399.77" fill="#FFFFBF" stroke="#4a4a4a" stroke-width="0.95" stroke-linejoin="round"/>
<polygon points="298.12,361.24 324.77,358.21 309.34,340.76 282.74,342.73" fill="#D9EF8B" stroke="#4a4a4a" stroke-width="0.95" stroke-linejoin="round"/>
<polygon points="687.89,423.46 712.41,412.21 694.40,399.07 669.98,409.27" fill="#FFFFBF" stroke="#4a4a4a" stroke-width="0.95" stroke-linejoin="round"/>
<polygon points="340.42,376.47 366.81,372.38 351.11,355.17 324.77,358.21" fill="#D9EF8B" stroke="#4a4a4a" stroke-width="0.95" stroke-linejoin="round"/>
<polygon points="797.97,414.13 822.03,400.91 803.18,389.48 779.23,401.63" fill="#FFFFBF" stroke="#4a4a4a" stroke-width="0.95" stroke-linejoin="round"/>
<polygon points="382.73,390.37 408.88,385.22 392.90,368.28 366.81,372.38" fill="#D9EF8B" stroke="#4a4a4a" stroke-width="0.95" stroke-linejoin="round"/>
<polygon points="577.87,423.50 602.94,414.24 585.68,399.44 560.71,407.66" fill="#FFFFBF" stroke="#4a4a4a" stroke-width="0.95" stroke-linejoin="round"/>
<polygon points="975.90,374.50 999.35,358.40 979.03,350.18 955.72,365.20" fill="#D9EF8B" stroke="#4a4a4a" stroke-width="0.95" stroke-linejoin="round"/>
<polygon points="425.08,402.95 450.99,396.76 434.73,380.08 408.88,385.22" fill="#FFFFBF" stroke="#4a4a4a" stroke-width="0.95" stroke-linejoin="round"/>
<polygon points="908.51,395.45 932.21,380.29 912.45,370.62 888.88,384.71" fill="#D9EF8B" stroke="#4a4a4a" stroke-width="0.95" stroke-linejoin="round"/>
<polygon points="730.67,426.10 755.07,413.83 736.70,401.01 712.41,412.21" fill="#FFFFBF" stroke="#4a4a4a" stroke-width="0.95" stroke-linejoin="round"/>
<polygon points="620.42,429.80 645.32,419.51 627.75,405.01 602.94,414.24" fill="#FFFFBF" stroke="#4a4a4a" stroke-width="0.95" stroke-linejoin="round"/>
<polygon points="467.48,414.22 493.18,406.98 476.63,390.58 450.99,396.76" fill="#FFFFBF" stroke="#4a4a4a" stroke-width="0.95" stroke-linejoin="round"/>
<polygon points="841.14,413.08 865.12,398.86 845.88,387.76 822.03,400.91" fill="#FFFFBF" stroke="#4a4a4a" stroke-width="0.95" stroke-linejoin="round"/>
<polygon points="509.97,424.17 535.47,415.90 518.61,399.77 493.18,406.98" fill="#FFFFBF" stroke="#4a4a4a" stroke-width="0.95" stroke-linejoin="round"/>
<polygon points="663.14,434.77 687.89,423.46 669.98,409.27 645.32,419.51" fill="#FFFFBF" stroke="#4a4a4a" stroke-width="0.95" stroke-linejoin="round"/>
<polygon points="773.69,427.41 797.97,414.13 779.23,401.63 755.07,413.83" fill="#FFFFBF" stroke="#4a4a4a" stroke-width="0.95" stroke-linejoin="round"/>
<polygon points="271.15,364.24 298.12,361.24 282.74,342.73 255.81,344.68" fill="#D9EF8B" stroke="#4a4a4a" stroke-width="0.95" stroke-linejoin="round"/>
<polygon points="952.25,390.67 975.90,374.50 955.72,365.20 932.21,380.29" fill="#D9EF8B" stroke="#4a4a4a" stroke-width="0.95" stroke-linejoin="round"/>
<polygon points="313.72,380.55 340.42,376.47 324.77,358.21 298.12,361.24" fill="#D9EF8B" stroke="#4a4a4a" stroke-width="0.95" stroke-linejoin="round"/>
<polygon points="552.56,432.81 577.87,423.50 560.71,407.66 535.47,415.90" fill="#FFFFBF" stroke="#4a4a4a" stroke-width="0.95" stroke-linejoin="round"/>
<polygon points="884.61,410.69 908.51,395.45 888.88,384.71 865.12,398.86" fill="#FFFFBF" stroke="#4a4a4a" stroke-width="0.95" stroke-linejoin="round"/>
<polygon points="356.29,395.52 382.73,390.37 366.81,372.38 340.42,376.47" fill="#D9EF8B" stroke="#4a4a4a" stroke-width="0.95" stroke-linejoin="round"/>
<polygon points="706.06,438.43 730.67,426.10 712.41,412.21 687.89,423.46" fill="#FFFFBF" stroke="#4a4a4a" stroke-width="0.95" stroke-linejoin="round"/>
<polygon points="398.88,409.16 425.08,402.95 408.88,385.22 382.73,390.37" fill="#FFFFBF" stroke="#4a4a4a" stroke-width="0.95" stroke-linejoin="round"/>
<polygon points="816.96,427.38 841.14,413.08 822.03,400.91 797.97,414.13" fill="#FFFFBF" stroke="#4a4a4a" stroke-width="0.95" stroke-linejoin="round"/>
<polygon points="595.28,440.13 620.42,429.80 602.94,414.24 577.87,423.50" fill="#FFFFBF" stroke="#4a4a4a" stroke-width="0.95" stroke-linejoin="round"/>
<polygon points="441.51,421.48 467.48,414.22 450.99,396.76 425.08,402.95" fill="#FFFFBF" stroke="#4a4a4a" stroke-width="0.95" stroke-linejoin="round"/>
<polygon points="996.35,384.51 1019.96,367.31 999.35,358.40 975.90,374.50" fill="#D9EF8B" stroke="#4a4a4a" stroke-width="0.95" stroke-linejoin="round"/>
<polygon points="749.19,440.76 773.69,427.41 755.07,413.83 730.67,426.10" fill="#FFFFBF" stroke="#4a4a4a" stroke-width="0.95" stroke-linejoin="round"/>
<polygon points="928.41,406.93 952.25,390.67 932.21,380.29 908.51,395.45" fill="#D9EF8B" stroke="#4a4a4a" stroke-width="0.95" stroke-linejoin="round"/>
<polygon points="638.15,446.14 663.14,434.77 645.32,419.51 620.42,429.80" fill="#FFFFBF" stroke="#4a4a4a" stroke-width="0.95" stroke-linejoin="round"/>
<polygon points="484.20,432.48 509.97,424.17 493.18,406.98 467.48,414.22" fill="#FFFFBF" stroke="#4a4a4a" stroke-width="0.95" stroke-linejoin="round"/>
<polygon points="860.51,426.00 884.61,410.69 865.12,398.86 841.14,413.08" fill="#FFFFBF" stroke="#4a4a4a" stroke-width="0.95" stroke-linejoin="round"/>
<polygon points="526.99,442.16 552.56,432.81 535.47,415.90 509.97,424.17" fill="#FFFFBF" stroke="#4a4a4a" stroke-width="0.95" stroke-linejoin="round"/>
<polygon points="286.72,384.62 313.72,380.55 298.12,361.24 271.15,364.24" fill="#D9EF8B" stroke="#4a4a4a" stroke-width="0.95" stroke-linejoin="round"/>
<polygon points="681.21,450.82 706.06,438.43 687.89,423.46 663.14,434.77" fill="#FFFFBF" stroke="#4a4a4a" stroke-width="0.95" stroke-linejoin="round"/>
<polygon points="792.56,441.75 816.96,427.38 797.97,414.13 773.69,427.41" fill="#FFFFBF" stroke="#4a4a4a" stroke-width="0.95" stroke-linejoin="round"/>
<polygon points="329.55,400.67 356.29,395.52 340.42,376.47 313.72,380.55" fill="#D9EF8B" stroke="#4a4a4a" stroke-width="0.95" stroke-linejoin="round"/>
<polygon points="569.88,450.52 595.28,440.13 577.87,423.50 552.56,432.81" fill="#FFFFBF" stroke="#4a4a4a" stroke-width="0.95" stroke-linejoin="round"/>
<polygon points="372.39,415.39 398.88,409.16 382.73,390.37 356.29,395.52" fill="#FFFFBF" stroke="#4a4a4a" stroke-width="0.95" stroke-linejoin="round"/>
<polygon points="972.56,401.78 996.35,384.51 975.90,374.50 952.25,390.67" fill="#D9EF8B" stroke="#4a4a4a" stroke-width="0.95" stroke-linejoin="round"/>
<polygon points="904.38,423.26 928.41,406.93 908.51,395.45 884.61,410.69" fill="#FFFFBF" stroke="#4a4a4a" stroke-width="0.95" stroke-linejoin="round"/>
<polygon points="415.25,428.77 441.51,421.48 425.08,402.95 398.88,409.16" fill="#FFFFBF" stroke="#4a4a4a" stroke-width="0.95" stroke-linejoin="round"/>
<polygon points="724.46,454.17 749.19,440.76 730.67,426.10 706.06,438.43" fill="#FFFFBF" stroke="#4a4a4a" stroke-width="0.95" stroke-linejoin="round"/>
<polygon points="612.92,457.56 638.15,446.14 620.42,429.80 595.28,440.13" fill="#FFFFBF" stroke="#4a4a4a" stroke-width="0.95" stroke-linejoin="round"/>
<polygon points="836.20,441.39 860.51,426.00 841.14,413.08 816.96,427.38" fill="#FFFFBF" stroke="#4a4a4a" stroke-width="0.95" stroke-linejoin="round"/>
<polygon points="458.16,440.82 484.20,432.48 467.48,414.22 441.51,421.48" fill="#FFFFBF" stroke="#4a4a4a" stroke-width="0.95" stroke-linejoin="round"/>
<polygon points="501.15,451.55 526.99,442.16 509.97,424.17 484.20,432.48" fill="#FFFFBF" stroke="#4a4a4a" stroke-width="0.95" stroke-linejoin="round"/>
<polygon points="656.12,463.27 681.21,450.82 663.14,434.77 638.15,446.14" fill="#FFFFBF" stroke="#4a4a4a" stroke-width="0.95" stroke-linejoin="round"/>
<polygon points="767.95,456.19 792.56,441.75 773.69,427.41 749.19,440.76" fill="#FFFFBF" stroke="#4a4a4a" stroke-width="0.95" stroke-linejoin="round"/>
<polygon points="1017.10,395.24 1040.86,376.94 1019.96,367.31 996.35,384.51" fill="#D9EF8B" stroke="#4a4a4a" stroke-width="0.95" stroke-linejoin="round"/>
<polygon points="948.58,419.14 972.56,401.78 952.25,390.67 928.41,406.93" fill="#D9EF8B" stroke="#4a4a4a" stroke-width="0.95" stroke-linejoin="round"/>
<polygon points="544.23,460.95 569.88,450.52 552.56,432.81 526.99,442.16" fill="#FFFFBF" stroke="#4a4a4a" stroke-width="0.95" stroke-linejoin="round"/>
<polygon points="302.50,405.83 329.55,400.67 313.72,380.55 286.72,384.62" fill="#D9EF8B" stroke="#4a4a4a" stroke-width="0.95" stroke-linejoin="round"/>
<polygon points="880.15,439.68 904.38,423.26 884.61,410.69 860.51,426.00" fill="#FFFFBF" stroke="#4a4a4a" stroke-width="0.95" stroke-linejoin="round"/>
<polygon points="345.60,421.62 372.39,415.39 356.29,395.52 329.55,400.67" fill="#FFFFBF" stroke="#4a4a4a" stroke-width="0.95" stroke-linejoin="round"/>
<polygon points="699.51,467.65 724.46,454.17 706.06,438.43 681.21,450.82" fill="#FFFFBF" stroke="#4a4a4a" stroke-width="0.95" stroke-linejoin="round"/>
<polygon points="811.69,456.86 836.20,441.39 816.96,427.38 792.56,441.75" fill="#FFFFBF" stroke="#4a4a4a" stroke-width="0.95" stroke-linejoin="round"/>
<polygon points="388.70,436.08 415.25,428.77 398.88,409.16 372.39,415.39" fill="#FFFFBF" stroke="#4a4a4a" stroke-width="0.95" stroke-linejoin="round"/>
<polygon points="587.44,469.03 612.92,457.56 595.28,440.13 569.88,450.52" fill="#FFFFBF" stroke="#4a4a4a" stroke-width="0.95" stroke-linejoin="round"/>
<polygon points="431.84,449.20 458.16,440.82 441.51,421.48 415.25,428.77" fill="#FFFFBF" stroke="#4a4a4a" stroke-width="0.95" stroke-linejoin="round"/>
<polygon points="993.16,413.64 1017.10,395.24 996.35,384.51 972.56,401.78" fill="#D9EF8B" stroke="#4a4a4a" stroke-width="0.95" stroke-linejoin="round"/>
<polygon points="743.12,470.70 767.95,456.19 749.19,440.76 724.46,454.17" fill="#FFFFBF" stroke="#4a4a4a" stroke-width="0.95" stroke-linejoin="round"/>
<polygon points="924.41,436.59 948.58,419.14 928.41,406.93 904.38,423.26" fill="#FFFFBF" stroke="#4a4a4a" stroke-width="0.95" stroke-linejoin="round"/>
<polygon points="630.80,475.78 656.12,463.27 638.15,446.14 612.92,457.56" fill="#FFFFBF" stroke="#4a4a4a" stroke-width="0.95" stroke-linejoin="round"/>
<polygon points="475.04,460.98 501.15,451.55 484.20,432.48 458.16,440.82" fill="#FFFFBF" stroke="#4a4a4a" stroke-width="0.95" stroke-linejoin="round"/>
<polygon points="855.71,456.17 880.15,439.68 860.51,426.00 836.20,441.39" fill="#FFFFBF" stroke="#4a4a4a" stroke-width="0.95" stroke-linejoin="round"/>
<polygon points="518.33,471.44 544.23,460.95 526.99,442.16 501.15,451.55" fill="#FFFFBF" stroke="#4a4a4a" stroke-width="0.95" stroke-linejoin="round"/>
<polygon points="674.33,481.21 699.51,467.65 681.21,450.82 656.12,463.27" fill="#FFFFBF" stroke="#4a4a4a" stroke-width="0.95" stroke-linejoin="round"/>
<polygon points="786.96,472.40 811.69,456.86 792.56,441.75 767.95,456.19" fill="#FFFFBF" stroke="#4a4a4a" stroke-width="0.95" stroke-linejoin="round"/>
<polygon points="318.51,427.88 345.60,421.62 329.55,400.67 302.50,405.83" fill="#FFFFBF" stroke="#4a4a4a" stroke-width="0.95" stroke-linejoin="round"/>
<polygon points="561.72,480.57 587.44,469.03 569.88,450.52 544.23,460.95" fill="#FFFFBF" stroke="#4a4a4a" stroke-width="0.95" stroke-linejoin="round"/>
<polygon points="969.03,432.12 993.16,413.64 972.56,401.78 948.58,419.14" fill="#FFFFBF" stroke="#4a4a4a" stroke-width="0.95" stroke-linejoin="round"/>
<polygon points="361.87,443.41 388.70,436.08 372.39,415.39 345.60,421.62" fill="#FFFFBF" stroke="#4a4a4a" stroke-width="0.95" stroke-linejoin="round"/>
<polygon points="900.05,454.12 924.41,436.59 904.38,423.26 880.15,439.68" fill="#FFFFBF" stroke="#4a4a4a" stroke-width="0.95" stroke-linejoin="round"/>
<polygon points="718.07,485.29 743.12,470.70 724.46,454.17 699.51,467.65" fill="#FFFFBF" stroke="#4a4a4a" stroke-width="0.95" stroke-linejoin="round"/>
<polygon points="405.24,457.61 431.84,449.20 415.25,428.77 388.70,436.08" fill="#FFFFBF" stroke="#4a4a4a" stroke-width="0.95" stroke-linejoin="round"/>
<polygon points="605.24,488.37 630.80,475.78 612.92,457.56 587.44,469.03" fill="#FFFFBF" stroke="#4a4a4a" stroke-width="0.95" stroke-linejoin="round"/>
<polygon points="831.08,472.76 855.71,456.17 836.20,441.39 811.69,456.86" fill="#FFFFBF" stroke="#4a4a4a" stroke-width="0.95" stroke-linejoin="round"/>
<polygon points="448.66,470.46 475.04,460.98 458.16,440.82 431.84,449.20" fill="#FFFFBF" stroke="#4a4a4a" stroke-width="0.95" stroke-linejoin="round"/>
<polygon points="492.15,481.98 518.33,471.44 501.15,451.55 475.04,460.98" fill="#FFFFBF" stroke="#4a4a4a" stroke-width="0.95" stroke-linejoin="round"/>
<polygon points="648.92,494.83 674.33,481.21 656.12,463.27 630.80,475.78" fill="#FFFFBF" stroke="#4a4a4a" stroke-width="0.95" stroke-linejoin="round"/>
<polygon points="762.02,488.03 786.96,472.40 767.95,456.19 743.12,470.70" fill="#FFFFBF" stroke="#4a4a4a" stroke-width="0.95" stroke-linejoin="round"/>
<polygon points="944.72,450.69 969.03,432.12 948.58,419.14 924.41,436.59" fill="#FFFFBF" stroke="#4a4a4a" stroke-width="0.95" stroke-linejoin="round"/>
<polygon points="535.73,492.16 561.72,480.57 544.23,460.95 518.33,471.44" fill="#FFFFBF" stroke="#4a4a4a" stroke-width="0.95" stroke-linejoin="round"/>
<polygon points="875.48,471.74 900.05,454.12 880.15,439.68 855.71,456.17" fill="#FFFFBF" stroke="#4a4a4a" stroke-width="0.95" stroke-linejoin="round"/>
<polygon points="692.79,499.96 718.07,485.29 699.51,467.65 674.33,481.21" fill="#FFFFBF" stroke="#4a4a4a" stroke-width="0.95" stroke-linejoin="round"/>
<polygon points="334.73,450.78 361.87,443.41 345.60,421.62 318.51,427.88" fill="#FFFFBF" stroke="#4a4a4a" stroke-width="0.95" stroke-linejoin="round"/>
<polygon points="806.23,489.43 831.08,472.76 811.69,456.86 786.96,472.40" fill="#FFFFBF" stroke="#4a4a4a" stroke-width="0.95" stroke-linejoin="round"/>
<polygon points="579.43,501.01 605.24,488.37 587.44,469.03 561.72,480.57" fill="#FFFFBF" stroke="#4a4a4a" stroke-width="0.95" stroke-linejoin="round"/>
<polygon points="378.36,466.05 405.24,457.61 388.70,436.08 361.87,443.41" fill="#FFFFBF" stroke="#4a4a4a" stroke-width="0.95" stroke-linejoin="round"/>
<polygon points="422.01,479.98 448.66,470.46 431.84,449.20 405.24,457.61" fill="#FFFFBF" stroke="#4a4a4a" stroke-width="0.95" stroke-linejoin="round"/>
<polygon points="736.86,503.74 762.02,488.03 743.12,470.70 718.07,485.29" fill="#FFFFBF" stroke="#4a4a4a" stroke-width="0.95" stroke-linejoin="round"/>
<polygon points="920.21,469.36 944.72,450.69 924.41,436.59 900.05,454.12" fill="#FFFFBF" stroke="#4a4a4a" stroke-width="0.95" stroke-linejoin="round"/>
<polygon points="623.27,508.53 648.92,494.83 630.80,475.78 605.24,488.37" fill="#FFFFBF" stroke="#4a4a4a" stroke-width="0.95" stroke-linejoin="round"/>
<polygon points="465.71,492.57 492.15,481.98 475.04,460.98 448.66,470.46" fill="#FFFFBF" stroke="#4a4a4a" stroke-width="0.95" stroke-linejoin="round"/>
<polygon points="850.72,489.46 875.48,471.74 855.71,456.17 831.08,472.76" fill="#FFFFBF" stroke="#4a4a4a" stroke-width="0.95" stroke-linejoin="round"/>
<polygon points="509.49,503.82 535.73,492.16 518.33,471.44 492.15,481.98" fill="#FFFFBF" stroke="#4a4a4a" stroke-width="0.95" stroke-linejoin="round"/>
<polygon points="667.28,514.70 692.79,499.96 674.33,481.21 648.92,494.83" fill="#FFFFBF" stroke="#4a4a4a" stroke-width="0.95" stroke-linejoin="round"/>
<polygon points="781.18,506.18 806.23,489.43 786.96,472.40 762.02,488.03" fill="#FFFFBF" stroke="#4a4a4a" stroke-width="0.95" stroke-linejoin="round"/>
<polygon points="553.37,513.73 579.43,501.01 561.72,480.57 535.73,492.16" fill="#FFFFBF" stroke="#4a4a4a" stroke-width="0.95" stroke-linejoin="round"/>
<polygon points="351.18,474.53 378.36,466.05 361.87,443.41 334.73,450.78" fill="#FFFFBF" stroke="#4a4a4a" stroke-width="0.95" stroke-linejoin="round"/>
<polygon points="895.51,488.12 920.21,469.36 900.05,454.12 875.48,471.74" fill="#FFFFBF" stroke="#4a4a4a" stroke-width="0.95" stroke-linejoin="round"/>
<polygon points="711.48,519.54 736.86,503.74 718.07,485.29 692.79,499.96" fill="#FFFFBF" stroke="#4a4a4a" stroke-width="0.95" stroke-linejoin="round"/>
<polygon points="395.07,489.55 422.01,479.98 405.24,457.61 378.36,466.05" fill="#FFFFBF" stroke="#4a4a4a" stroke-width="0.95" stroke-linejoin="round"/>
<polygon points="597.38,522.30 623.27,508.53 605.24,488.37 579.43,501.01" fill="#FFFFBF" stroke="#4a4a4a" stroke-width="0.95" stroke-linejoin="round"/>
<polygon points="825.75,507.26 850.72,489.46 831.08,472.76 806.23,489.43" fill="#FFFFBF" stroke="#4a4a4a" stroke-width="0.95" stroke-linejoin="round"/>
<polygon points="439.00,503.21 465.71,492.57 448.66,470.46 422.01,479.98" fill="#FFFFBF" stroke="#4a4a4a" stroke-width="0.95" stroke-linejoin="round"/>
<polygon points="755.91,523.03 781.18,506.18 762.02,488.03 736.86,503.74" fill="#FFFFBF" stroke="#4a4a4a" stroke-width="0.95" stroke-linejoin="round"/>
<polygon points="641.54,529.53 667.28,514.70 648.92,494.83 623.27,508.53" fill="#FDAE61" stroke="#4a4a4a" stroke-width="0.95" stroke-linejoin="round"/>
<polygon points="482.98,515.53 509.49,503.82 492.15,481.98 465.71,492.57" fill="#FFFFBF" stroke="#4a4a4a" stroke-width="0.95" stroke-linejoin="round"/>
<polygon points="870.62,506.97 895.51,488.12 875.48,471.74 850.72,489.46" fill="#FFFFBF" stroke="#4a4a4a" stroke-width="0.95" stroke-linejoin="round"/>
<polygon points="527.06,526.51 553.37,513.73 535.73,492.16 509.49,503.82" fill="#FFFFBF" stroke="#4a4a4a" stroke-width="0.95" stroke-linejoin="round"/>
<polygon points="685.88,535.42 711.48,519.54 692.79,499.96 667.28,514.70" fill="#FDAE61" stroke="#4a4a4a" stroke-width="0.95" stroke-linejoin="round"/>
<polygon points="800.58,525.16 825.75,507.26 806.23,489.43 781.18,506.18" fill="#FFFFBF" stroke="#4a4a4a" stroke-width="0.95" stroke-linejoin="round"/>
<polygon points="571.24,536.15 597.38,522.30 579.43,501.01 553.37,513.73" fill="#FDAE61" stroke="#4a4a4a" stroke-width="0.95" stroke-linejoin="round"/>
<polygon points="367.84,499.16 395.07,489.55 378.36,466.05 351.18,474.53" fill="#FFFFBF" stroke="#4a4a4a" stroke-width="0.95" stroke-linejoin="round"/>
<polygon points="412.01,513.91 439.00,503.21 422.01,479.98 395.07,489.55" fill="#FFFFBF" stroke="#4a4a4a" stroke-width="0.95" stroke-linejoin="round"/>
<polygon points="730.42,539.96 755.91,523.03 736.86,503.74 711.48,519.54" fill="#FDAE61" stroke="#4a4a4a" stroke-width="0.95" stroke-linejoin="round"/>
<polygon points="615.56,544.44 641.54,529.53 623.27,508.53 597.38,522.30" fill="#FDAE61" stroke="#4a4a4a" stroke-width="0.95" stroke-linejoin="round"/>
<polygon points="456.21,527.31 482.98,515.53 465.71,492.57 439.00,503.21" fill="#FFFFBF" stroke="#4a4a4a" stroke-width="0.95" stroke-linejoin="round"/>
<polygon points="845.53,525.92 870.62,506.97 850.72,489.46 825.75,507.26" fill="#FFFFBF" stroke="#4a4a4a" stroke-width="0.95" stroke-linejoin="round"/>
<polygon points="500.48,539.36 527.06,526.51 509.49,503.82 482.98,515.53" fill="#FDAE61" stroke="#4a4a4a" stroke-width="0.95" stroke-linejoin="round"/>
<polygon points="660.04,551.39 685.88,535.42 667.28,514.70 641.54,529.53" fill="#FDAE61" stroke="#4a4a4a" stroke-width="0.95" stroke-linejoin="round"/>
<polygon points="775.20,543.15 800.58,525.16 781.18,506.18 755.91,523.03" fill="#FDAE61" stroke="#4a4a4a" stroke-width="0.95" stroke-linejoin="round"/>
<polygon points="544.85,550.07 571.24,536.15 553.37,513.73 527.06,526.51" fill="#FDAE61" stroke="#4a4a4a" stroke-width="0.95" stroke-linejoin="round"/>
<polygon points="704.71,556.99 730.42,539.96 711.48,519.54 685.88,535.42" fill="#FDAE61" stroke="#4a4a4a" stroke-width="0.95" stroke-linejoin="round"/>
<polygon points="384.73,524.67 412.01,513.91 395.07,489.55 367.84,499.16" fill="#FFFFBF" stroke="#4a4a4a" stroke-width="0.95" stroke-linejoin="round"/>
<polygon points="589.34,559.43 615.56,544.44 597.38,522.30 571.24,536.15" fill="#FDAE61" stroke="#4a4a4a" stroke-width="0.95" stroke-linejoin="round"/>
<polygon points="820.23,544.97 845.53,525.92 825.75,507.26 800.58,525.16" fill="#FDAE61" stroke="#4a4a4a" stroke-width="0.95" stroke-linejoin="round"/>
<polygon points="429.16,539.15 456.21,527.31 439.00,503.21 412.01,513.91" fill="#FFFFBF" stroke="#4a4a4a" stroke-width="0.95" stroke-linejoin="round"/>
<polygon points="749.60,561.24 775.20,543.15 755.91,523.03 730.42,539.96" fill="#FDAE61" stroke="#4a4a4a" stroke-width="0.95" stroke-linejoin="round"/>
<polygon points="633.97,567.44 660.04,551.39 641.54,529.53 615.56,544.44" fill="#FDAE61" stroke="#4a4a4a" stroke-width="0.95" stroke-linejoin="round"/>
<polygon points="473.65,552.29 500.48,539.36 482.98,515.53 456.21,527.31" fill="#FDAE61" stroke="#4a4a4a" stroke-width="0.95" stroke-linejoin="round"/>
<polygon points="518.21,564.07 544.85,550.07 527.06,526.51 500.48,539.36" fill="#FDAE61" stroke="#4a4a4a" stroke-width="0.95" stroke-linejoin="round"/>
<polygon points="678.78,574.11 704.71,556.99 685.88,535.42 660.04,551.39" fill="#FDAE61" stroke="#4a4a4a" stroke-width="0.95" stroke-linejoin="round"/>
<polygon points="794.73,564.12 820.23,544.97 800.58,525.16 775.20,543.15" fill="#FDAE61" stroke="#4a4a4a" stroke-width="0.95" stroke-linejoin="round"/>
<polygon points="562.87,574.51 589.34,559.43 571.24,536.15 544.85,550.07" fill="#FDAE61" stroke="#4a4a4a" stroke-width="0.95" stroke-linejoin="round"/>
<polygon points="723.79,579.42 749.60,561.24 730.42,539.96 704.71,556.99" fill="#FDAE61" stroke="#4a4a4a" stroke-width="0.95" stroke-linejoin="round"/>
<polygon points="401.84,551.06 429.16,539.15 412.01,513.91 384.73,524.67" fill="#FDAE61" stroke="#4a4a4a" stroke-width="0.95" stroke-linejoin="round"/>
<polygon points="607.67,583.59 633.97,567.44 615.56,544.44 589.34,559.43" fill="#FDAE61" stroke="#4a4a4a" stroke-width="0.95" stroke-linejoin="round"/>
<polygon points="446.54,565.29 473.65,552.29 456.21,527.31 429.16,539.15" fill="#FDAE61" stroke="#4a4a4a" stroke-width="0.95" stroke-linejoin="round"/>
<polygon points="491.31,578.15 518.21,564.07 500.48,539.36 473.65,552.29" fill="#FDAE61" stroke="#4a4a4a" stroke-width="0.95" stroke-linejoin="round"/>
<polygon points="652.62,591.33 678.78,574.11 660.04,551.39 633.97,567.44" fill="#FDAE61" stroke="#4a4a4a" stroke-width="0.95" stroke-linejoin="round"/>
<polygon points="769.02,583.38 794.73,564.12 775.20,543.15 749.60,561.24" fill="#FDAE61" stroke="#4a4a4a" stroke-width="0.95" stroke-linejoin="round"/>
<polygon points="536.16,589.67 562.87,574.51 544.85,550.07 518.21,564.07" fill="#FDAE61" stroke="#4a4a4a" stroke-width="0.95" stroke-linejoin="round"/>
<polygon points="697.76,597.71 723.79,579.42 704.71,556.99 678.78,574.11" fill="#FDAE61" stroke="#4a4a4a" stroke-width="0.95" stroke-linejoin="round"/>
<polygon points="581.12,599.83 607.67,583.59 589.34,559.43 562.87,574.51" fill="#FDAE61" stroke="#4a4a4a" stroke-width="0.95" stroke-linejoin="round"/>
<polygon points="419.17,578.36 446.54,565.29 429.16,539.15 401.84,551.06" fill="#FDAE61" stroke="#4a4a4a" stroke-width="0.95" stroke-linejoin="round"/>
<polygon points="743.10,602.73 769.02,583.38 749.60,561.24 723.79,579.42" fill="#FDAE61" stroke="#4a4a4a" stroke-width="0.95" stroke-linejoin="round"/>
<polygon points="626.23,608.64 652.62,591.33 633.97,567.44 607.67,583.59" fill="#FDAE61" stroke="#4a4a4a" stroke-width="0.95" stroke-linejoin="round"/>
<polygon points="464.14,592.32 491.31,578.15 473.65,552.29 446.54,565.29" fill="#FDAE61" stroke="#4a4a4a" stroke-width="0.95" stroke-linejoin="round"/>
<polygon points="509.19,604.92 536.16,589.67 518.21,564.07 491.31,578.15" fill="#FDAE61" stroke="#4a4a4a" stroke-width="0.95" stroke-linejoin="round"/>
<polygon points="671.50,616.09 697.76,597.71 678.78,574.11 652.62,591.33" fill="#FDAE61" stroke="#4a4a4a" stroke-width="0.95" stroke-linejoin="round"/>
<polygon points="554.34,616.16 581.12,599.83 562.87,574.51 536.16,589.67" fill="#FDAE61" stroke="#4a4a4a" stroke-width="0.95" stroke-linejoin="round"/>
<polygon points="716.97,622.19 743.10,602.73 723.79,579.42 697.76,597.71" fill="#FDAE61" stroke="#4a4a4a" stroke-width="0.95" stroke-linejoin="round"/>
<polygon points="599.60,626.05 626.23,608.64 607.67,583.59 581.12,599.83" fill="#FDAE61" stroke="#4a4a4a" stroke-width="0.95" stroke-linejoin="round"/>
<polygon points="436.71,606.56 464.14,592.32 446.54,565.29 419.17,578.36" fill="#FDAE61" stroke="#4a4a4a" stroke-width="0.95" stroke-linejoin="round"/>
<polygon points="645.02,634.58 671.50,616.09 652.62,591.33 626.23,608.64" fill="#FDAE61" stroke="#4a4a4a" stroke-width="0.95" stroke-linejoin="round"/>
<polygon points="481.97,620.26 509.19,604.92 491.31,578.15 464.14,592.32" fill="#FDAE61" stroke="#4a4a4a" stroke-width="0.95" stroke-linejoin="round"/>
<polygon points="527.30,632.59 554.34,616.16 536.16,589.67 509.19,604.92" fill="#FDAE61" stroke="#4a4a4a" stroke-width="0.95" stroke-linejoin="round"/>
<polygon points="690.62,641.76 716.97,622.19 697.76,597.71 671.50,616.09" fill="#FDAE61" stroke="#4a4a4a" stroke-width="0.95" stroke-linejoin="round"/>
<polygon points="572.74,643.56 599.60,626.05 581.12,599.83 554.34,616.16" fill="#FDAE61" stroke="#4a4a4a" stroke-width="0.95" stroke-linejoin="round"/>
<polygon points="618.31,653.18 645.02,634.58 626.23,608.64 599.60,626.05" fill="#FDAE61" stroke="#4a4a4a" stroke-width="0.95" stroke-linejoin="round"/>
<polygon points="454.48,635.69 481.97,620.26 464.14,592.32 436.71,606.56" fill="#FDAE61" stroke="#4a4a4a" stroke-width="0.95" stroke-linejoin="round"/>
<polygon points="500.01,649.11 527.30,632.59 509.19,604.92 481.97,620.26" fill="#FDAE61" stroke="#4a4a4a" stroke-width="0.95" stroke-linejoin="round"/>
<polygon points="664.04,661.44 690.62,641.76 671.50,616.09 645.02,634.58" fill="#F46D43" stroke="#4a4a4a" stroke-width="0.95" stroke-linejoin="round"/>
<polygon points="545.63,661.18 572.74,643.56 554.34,616.16 527.30,632.59" fill="#F46D43" stroke="#4a4a4a" stroke-width="0.95" stroke-linejoin="round"/>
<polygon points="591.37,671.88 618.31,653.18 599.60,626.05 572.74,643.56" fill="#F46D43" stroke="#4a4a4a" stroke-width="0.95" stroke-linejoin="round"/>
<polygon points="637.25,681.23 664.04,661.44 645.02,634.58 618.31,653.18" fill="#F46D43" stroke="#4a4a4a" stroke-width="0.95" stroke-linejoin="round"/>
<polygon points="472.47,665.73 500.01,649.11 481.97,620.26 454.48,635.69" fill="#F46D43" stroke="#4a4a4a" stroke-width="0.95" stroke-linejoin="round"/>
<polygon points="518.28,678.89 545.63,661.18 527.30,632.59 500.01,649.11" fill="#F46D43" stroke="#4a4a4a" stroke-width="0.95" stroke-linejoin="round"/>
<polygon points="564.18,690.69 591.37,671.88 572.74,643.56 545.63,661.18" fill="#F46D43" stroke="#4a4a4a" stroke-width="0.95" stroke-linejoin="round"/>
<polygon points="610.22,701.13 637.25,681.23 618.31,653.18 591.37,671.88" fill="#F46D43" stroke="#4a4a4a" stroke-width="0.95" stroke-linejoin="round"/>
<polygon points="490.67,696.72 518.28,678.89 500.01,649.11 472.47,665.73" fill="#F46D43" stroke="#4a4a4a" stroke-width="0.95" stroke-linejoin="round"/>
<polygon points="536.76,709.61 564.18,690.69 545.63,661.18 518.28,678.89" fill="#F46D43" stroke="#4a4a4a" stroke-width="0.95" stroke-linejoin="round"/>
<polygon points="582.96,721.14 610.22,701.13 591.37,671.88 564.18,690.69" fill="#F46D43" stroke="#4a4a4a" stroke-width="0.95" stroke-linejoin="round"/>
<polygon points="509.09,728.65 536.76,709.61 518.28,678.89 490.67,696.72" fill="#F46D43" stroke="#4a4a4a" stroke-width="0.95" stroke-linejoin="round"/>
<polygon points="555.46,741.27 582.96,721.14 564.18,690.69 536.76,709.61" fill="#F46D43" stroke="#4a4a4a" stroke-width="0.95" stroke-linejoin="round"/>
<polygon points="527.73,761.52 555.46,741.27 536.76,709.61 509.09,728.65" fill="#F46D43" stroke="#4a4a4a" stroke-width="0.95" stroke-linejoin="round"/>
<line x1="529.01" y1="885.67" x2="1021.02" y2="706.13" stroke="#000" stroke-width="1.2"/>
<line x1="529.01" y1="885.67" x2="216.37" y2="638.79" stroke="#000" stroke-width="1.2"/>
<line x1="529.01" y1="885.67" x2="522.61" y2="266.05" stroke="#000" stroke-width="1.2"/>
<line x1="1021.02" y1="706.13" x2="1055.03" y2="141.76" stroke="#000" stroke-width="1.2"/>
<line x1="216.37" y1="638.79" x2="186.87" y2="94.97" stroke="#000" stroke-width="1.2"/>
<line x1="522.61" y1="266.05" x2="1055.03" y2="141.76" stroke="#000" stroke-width="1.2"/>
<line x1="522.61" y1="266.05" x2="186.87" y2="94.97" stroke="#000" stroke-width="1.2"/>
<line x1="1055.03" y1="141.76" x2="678.29" y2="4.44" stroke="#000" stroke-width="1.2"/>
<line x1="186.87" y1="94.97" x2="678.29" y2="4.44" stroke="#000" stroke-width="1.2"/>
<polyline points="527.73,761.52 528.65,756.15 529.56,750.81 530.47,745.50 531.38,740.23 532.29,735.00 533.19,729.80 534.10,724.64 535.00,719.51 535.91,714.42 536.81,709.36 537.70,704.34 538.60,699.35 539.50,694.40 540.39,689.48 541.28,684.60 542.17,679.75 543.06,674.94 543.95,670.16 544.84,665.42 545.72,660.71 546.60,656.03 547.48,651.39 548.36,646.79 549.24,642.22 550.11,637.68 550.99,633.18 551.86,628.71 552.73,624.27 553.60,619.87 554.47,615.51 555.33,611.18 556.20,606.88 557.06,602.61 557.92,598.38 558.78,594.19 559.63,590.02 560.49,585.89 561.34,581.80 562.19,577.73 563.04,573.70 563.89,569.71 564.74,565.74 565.58,561.81 566.43,557.92 567.27,554.05 568.11,550.22 568.94,546.42 569.78,542.66 570.61,538.92 571.45,535.22 572.28,531.56 573.11,527.92 573.93,524.32 574.76,520.75 575.58,517.21 576.40,513.70 577.22,510.23 578.04,506.79 578.86,503.38 579.67,500.00 580.49,496.66 581.30,493.34 582.11,490.06 582.91,486.81 583.72,483.59 584.52,480.40 585.33,477.25 586.13,474.12 586.93,471.03 587.72,467.97 588.52,464.93 589.31,461.93 590.10,458.96 590.89,456.02 591.68,453.12 592.47,450.24 593.25,447.39 594.03,444.58 594.81,441.79 595.59,439.04 596.37,436.31 597.14,433.62 597.92,430.95 598.69,428.32 599.46,425.71 600.22,423.14 600.99,420.59 601.75,418.08 602.52,415.59 603.28,413.13 604.04,410.71 604.79,408.31 605.55,405.94 606.30,403.60 607.05,401.29 607.80,399.01 608.55,396.76 609.29,394.54 610.04,392.35 610.78,390.18 611.52,388.05 612.26,385.94 613.00,383.86 613.73,381.81 614.46,379.78 615.19,377.79 615.92,375.82 616.65,373.89 617.38,371.98 618.10,370.09 618.82,368.24 619.54,366.41 620.26,364.61 620.98,362.84 621.69,361.10 622.40,359.38 623.12,357.69 623.82,356.03 624.53,354.39 625.24,352.79 625.94,351.21 626.64,349.65 627.34,348.12 628.04,346.62 628.74,345.15 629.43,343.70 630.12,342.28 630.81,340.89 631.50,339.52 632.19,338.17 632.87,336.86 633.56,335.57 634.24,334.30 634.92,333.06 635.60,331.85 636.27,330.66 636.95,329.50 637.62,328.37 638.29,327.26 638.96,326.17 639.62,325.11 640.29,324.08 640.95,323.07 641.61,322.08 642.27,321.12 642.93,320.19 643.59,319.28 644.24,318.39 644.89,317.53 645.54,316.69 646.19,315.88 646.84,315.09 647.49,314.33 648.13,313.59 648.77,312.87 649.41,312.18 650.05,311.51 650.68,310.86 651.32,310.24 651.95,309.65 652.58,309.07 653.21,308.52 653.84,307.99 654.46,307.49 655.08,307.01 655.71,306.55 656.33,306.12 656.94,305.71 657.56,305.32 658.17,304.95 658.79,304.61 659.40,304.28 660.01,303.99 660.61,303.71 661.22,303.46 661.82,303.22 662.43,303.01 663.03,302.83 663.62,302.66 664.22,302.52 664.82,302.39 665.41,302.29 666.00,302.21 666.59,302.16 667.18,302.12 667.76,302.11 668.35,302.11 668.93,302.14 669.51,302.19 670.09,302.26 670.67,302.35 671.24,302.46 671.82,302.59 672.39,302.75 672.96,302.92 673.53,303.11 674.09,303.33 674.66,303.56 675.22,303.82" fill="none" stroke="#0000FF" stroke-width="2.8" stroke-linejoin="round" stroke-linecap="round"/>
<polyline points="196.60,274.39 200.75,276.21 204.91,278.02 209.06,279.82 213.21,281.60 217.36,283.37 221.51,285.13 225.66,286.87 229.81,288.60 233.95,290.32 238.10,292.02 242.25,293.71 246.40,295.39 250.54,297.05 254.69,298.70 258.84,300.34 262.98,301.96 267.13,303.57 271.27,305.17 275.42,306.75 279.56,308.32 283.71,309.88 287.85,311.43 292.00,312.96 296.14,314.47 300.28,315.98 304.43,317.47 308.57,318.95 312.72,320.41 316.86,321.87 321.01,323.31 325.15,324.73 329.29,326.14 333.44,327.54 337.58,328.93 341.73,330.30 345.87,331.66 350.02,333.01 354.16,334.34 358.31,335.66 362.45,336.97 366.60,338.27 370.74,339.55 374.89,340.82 379.04,342.07 383.19,343.31 387.33,344.54 391.48,345.76 395.63,346.96 399.78,348.15 403.93,349.33 408.08,350.49 412.23,351.64 416.38,352.78 420.53,353.91 424.68,355.02 428.84,356.12 432.99,357.20 437.14,358.27 441.30,359.33 445.45,360.38 449.61,361.41 453.77,362.43 457.92,363.44 462.08,364.43 466.24,365.42 470.40,366.38 474.56,367.34 478.72,368.28 482.89,369.21 487.05,370.12 491.22,371.03 495.38,371.92 499.55,372.79 503.72,373.66 507.88,374.51 512.05,375.34 516.22,376.17 520.40,376.98 524.57,377.78 528.74,378.56 532.92,379.34 537.10,380.09 541.27,380.84 545.45,381.57 549.63,382.29 553.82,383.00 558.00,383.69 562.18,384.37 566.37,385.04 570.56,385.70 574.75,386.34 578.94,386.97 583.13,387.58 587.32,388.18 591.51,388.77 595.71,389.35 599.91,389.91 604.11,390.46 608.31,391.00 612.51,391.52 616.72,392.03 620.92,392.53 625.13,393.01 629.34,393.48 633.55,393.94 637.76,394.38 641.98,394.82 646.19,395.23 650.41,395.64 654.63,396.03 658.85,396.41 663.08,396.78 667.30,397.13 671.53,397.47 675.76,397.79 679.99,398.10 684.23,398.40 688.47,398.69 692.70,398.96 696.94,399.22 701.19,399.47 705.43,399.70 709.68,399.92 713.93,400.13 718.18,400.32 722.43,400.50 726.69,400.67 730.95,400.82 735.21,400.96 739.47,401.09 743.74,401.20 748.00,401.30 752.27,401.39 756.55,401.46 760.82,401.52 765.10,401.57 769.38,401.60 773.66,401.62 777.95,401.63 782.24,401.62 786.53,401.60 790.82,401.57 795.12,401.52 799.42,401.46 803.72,401.38 808.02,401.29 812.33,401.19 816.64,401.08 820.95,400.95 825.27,400.81 829.59,400.65 833.91,400.48 838.23,400.30 842.56,400.10 846.89,399.89 851.23,399.67 855.56,399.43 859.90,399.18 864.25,398.92 868.59,398.64 872.94,398.35 877.29,398.04 881.65,397.72 886.01,397.39 890.37,397.04 894.74,396.68 899.11,396.30 903.48,395.92 907.86,395.51 912.23,395.10 916.62,394.67 921.00,394.22 925.39,393.77 929.79,393.29 934.18,392.81 938.58,392.31 942.99,391.80 947.40,391.27 951.81,390.73 956.22,390.17 960.64,389.60 965.06,389.02 969.49,388.42 973.92,387.81 978.36,387.19 982.79,386.55 987.24,385.89 991.68,385.22 996.13,384.54 1000.59,383.85 1005.04,383.14 1009.51,382.41 1013.97,381.67 1018.44,380.92 1022.92,380.15 1027.39,379.37 1031.88,378.57 1036.36,377.76 1040.86,376.94" fill="none" stroke="#000" stroke-width="2.8" stroke-linejoin="round" stroke-linecap="round"/>
<line x1="536.14" y1="883.07" x2="556.60" y2="930.26" stroke="#000" stroke-width="1.2"/>
<line x1="524.29" y1="881.94" x2="494.41" y2="924.18" stroke="#000" stroke-width="1.2"/>
<line x1="623.38" y1="851.23" x2="643.85" y2="897.41" stroke="#000" stroke-width="1.2"/>
<line x1="466.93" y1="836.64" x2="437.73" y2="877.69" stroke="#000" stroke-width="1.2"/>
<line x1="707.45" y1="820.55" x2="727.91" y2="865.76" stroke="#000" stroke-width="1.2"/>
<line x1="412.48" y1="793.65" x2="383.93" y2="833.58" stroke="#000" stroke-width="1.2"/>
<line x1="788.53" y1="790.97" x2="808.97" y2="835.23" stroke="#000" stroke-width="1.2"/>
<line x1="360.74" y1="752.79" x2="332.81" y2="791.66" stroke="#000" stroke-width="1.2"/>
<line x1="866.76" y1="762.42" x2="887.18" y2="805.79" stroke="#000" stroke-width="1.2"/>
<line x1="311.50" y1="713.91" x2="284.18" y2="751.78" stroke="#000" stroke-width="1.2"/>
<line x1="942.30" y1="734.86" x2="962.68" y2="777.36" stroke="#000" stroke-width="1.2"/>
<line x1="264.60" y1="676.87" x2="237.84" y2="713.78" stroke="#000" stroke-width="1.2"/>
<line x1="1015.29" y1="708.22" x2="1035.61" y2="749.89" stroke="#000" stroke-width="1.2"/>
<line x1="219.86" y1="641.54" x2="193.65" y2="677.55" stroke="#000" stroke-width="1.2"/>
<line x1="215.61" y1="624.73" x2="173.24" y2="621.22" stroke="#000" stroke-width="1.2"/>
<line x1="207.81" y1="481.06" x2="164.61" y2="477.81" stroke="#000" stroke-width="1.2"/>
<line x1="199.70" y1="331.42" x2="155.62" y2="328.47" stroke="#000" stroke-width="1.2"/>
<line x1="191.23" y1="175.45" x2="146.25" y2="172.83" stroke="#000" stroke-width="1.2"/>
<text x="576.19" y="985.49" text-anchor="middle" clip-path="url(#c0)">-15</text>
<text x="465.52" y="974.07" text-anchor="middle" clip-path="url(#c1)">-15</text>
<text x="663.45" y="951.60" text-anchor="middle" clip-path="url(#c2)">-10</text>
<text x="409.52" y="926.39" text-anchor="middle" clip-path="url(#c3)">-10</text>
<text x="747.51" y="918.95" text-anchor="middle">-5</text>
<text x="356.39" y="881.15" text-anchor="middle">-5</text>
<text x="828.54" y="887.48" text-anchor="middle">0</text>
<text x="305.90" y="838.16" text-anchor="middle">0</text>
<text x="906.71" y="857.12" text-anchor="middle">5</text>
<text x="257.86" y="797.27" text-anchor="middle">5</text>
<text x="982.17" y="827.81" text-anchor="middle" clip-path="url(#c10)">10</text>
<text x="212.10" y="758.31" text-anchor="middle" clip-path="url(#c11)">10</text>
<text x="1055.05" y="799.51" text-anchor="middle" clip-path="url(#c12)">15</text>
<text x="168.47" y="721.16" text-anchor="middle" clip-path="url(#c13)">15</text>
<text x="130.52" y="626.83" text-anchor="middle" clip-path="url(#c14)">10</text>
<text x="121.06" y="483.69" text-anchor="middle">20</text>
<text x="111.20" y="334.64" text-anchor="middle">30</text>
<text x="100.93" y="179.32" text-anchor="middle">40</text>
<text transform="translate(870,969) rotate(-19)" text-anchor="middle" dominant-baseline="central" style="font-size:23.3px">Empathic Concern</text>
<text transform="translate(250,907) rotate(40)" text-anchor="middle" dominant-baseline="central" style="font-size:23.3px">Personal Distress</text>
<text transform="translate(17.9,364.95) rotate(-92)" text-anchor="middle" dominant-baseline="central" style="font-size:23.5px">Identification with All Humanity</text>
</svg></body></html>
